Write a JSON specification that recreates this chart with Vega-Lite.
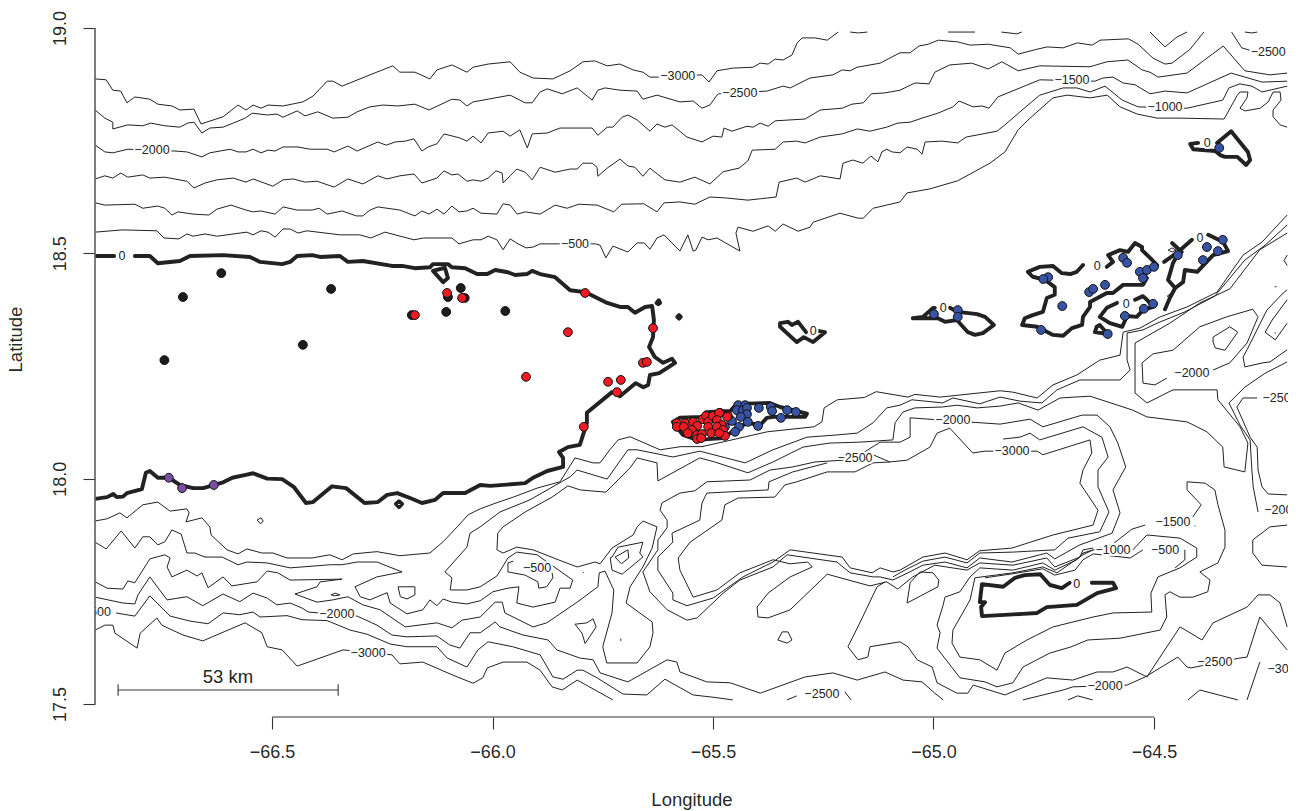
{"$schema":"https://vega.github.io/schema/vega-lite/v6.json","width":1193,"height":689,"autosize":"none","padding":{"left":95,"top":28,"right":8,"bottom":94},"background":"white","config":{"view":{"stroke":null},"text":{"font":"Liberation Sans"},"axis":{"grid":false,"labelFont":"Liberation Sans","titleFont":"Liberation Sans","labelFontSize":18,"titleFontSize":18.5,"labelColor":"#222","titleColor":"#222","labelOpacity":0.99,"titleOpacity":0.99,"titleFontWeight":"normal","tickColor":"#333","tickWidth":1.1,"tickSize":12,"domain":false}},
"datasets":{
"contours":[
{"s":"a","lon":-66.901,"lat":18.887},{"s":"a","lon":-66.876,"lat":18.885},{"s":"a","lon":-66.861,"lat":18.862},{"s":"a","lon":-66.843,"lat":18.860},{"s":"a","lon":-66.829,"lat":18.834},{"s":"a","lon":-66.811,"lat":18.847},{"s":"a","lon":-66.777,"lat":18.842},{"s":"a","lon":-66.759,"lat":18.831},{"s":"a","lon":-66.727,"lat":18.827},{"s":"a","lon":-66.709,"lat":18.818},{"s":"a","lon":-66.677,"lat":18.820},{"s":"a","lon":-66.661,"lat":18.787},{"s":"a","lon":-66.611,"lat":18.803},{"s":"a","lon":-66.577,"lat":18.829},{"s":"a","lon":-66.559,"lat":18.818},{"s":"a","lon":-66.543,"lat":18.829},{"s":"a","lon":-66.525,"lat":18.822},{"s":"a","lon":-66.509,"lat":18.829},{"s":"a","lon":-66.475,"lat":18.827},{"s":"a","lon":-66.430,"lat":18.836},{"s":"a","lon":-66.407,"lat":18.849},{"s":"a","lon":-66.375,"lat":18.882},{"s":"a","lon":-66.362,"lat":18.882},{"s":"a","lon":-66.341,"lat":18.871},{"s":"a","lon":-66.278,"lat":18.896},{"s":"a","lon":-66.226,"lat":18.916},{"s":"a","lon":-66.210,"lat":18.902},{"s":"a","lon":-66.176,"lat":18.902},{"s":"a","lon":-66.142,"lat":18.887},{"s":"a","lon":-66.126,"lat":18.907},{"s":"a","lon":-66.092,"lat":18.918},{"s":"a","lon":-66.058,"lat":18.902},{"s":"a","lon":-66.044,"lat":18.913},{"s":"a","lon":-66.010,"lat":18.920},{"s":"a","lon":-65.960,"lat":18.925},{"s":"a","lon":-65.938,"lat":18.902},{"s":"a","lon":-65.908,"lat":18.889},{"s":"a","lon":-65.863,"lat":18.887},{"s":"a","lon":-65.824,"lat":18.905},{"s":"a","lon":-65.795,"lat":18.925},{"s":"a","lon":-65.768,"lat":18.927},{"s":"a","lon":-65.740,"lat":18.916},{"s":"a","lon":-65.711,"lat":18.920},{"s":"a","lon":-65.681,"lat":18.907},{"s":"a","lon":-65.659,"lat":18.902},{"s":"a","lon":-65.643,"lat":18.891},{"s":"a","lon":-65.624,"lat":18.891},{"s":"a","lon":-65.525,"lat":18.896},{"s":"a","lon":-65.509,"lat":18.880},{"s":"a","lon":-65.491,"lat":18.905},{"s":"a","lon":-65.455,"lat":18.911},{"s":"a","lon":-65.409,"lat":18.913},{"s":"a","lon":-65.393,"lat":18.922},{"s":"a","lon":-65.375,"lat":18.920},{"s":"a","lon":-65.359,"lat":18.931},{"s":"a","lon":-65.341,"lat":18.929},{"s":"a","lon":-65.321,"lat":18.940},{"s":"a","lon":-65.309,"lat":18.967},{"s":"a","lon":-65.298,"lat":18.978},{"s":"a","lon":-65.268,"lat":18.978},{"s":"a","lon":-65.241,"lat":18.973},{"s":"a","lon":-65.216,"lat":18.991},
{"s":"a2","lon":-65.189,"lat":18.991},{"s":"a2","lon":-65.171,"lat":18.989},{"s":"a2","lon":-65.150,"lat":18.991},
{"s":"a3","lon":-64.967,"lat":18.991},{"s":"a3","lon":-64.906,"lat":18.991},
{"s":"a4","lon":-64.846,"lat":18.991},{"s":"a4","lon":-64.811,"lat":18.987},{"s":"a4","lon":-64.800,"lat":18.991},
{"s":"a5","lon":-64.509,"lat":18.991},{"s":"a5","lon":-64.475,"lat":18.958},{"s":"a5","lon":-64.448,"lat":18.980},{"s":"a5","lon":-64.425,"lat":18.991},
{"s":"a6","lon":-64.324,"lat":18.991},{"s":"a6","lon":-64.301,"lat":18.956},{"s":"a6","lon":-64.271,"lat":18.947},
{"s":"a7","lon":-64.294,"lat":18.991},{"s":"a7","lon":-64.278,"lat":18.989},{"s":"a7","lon":-64.266,"lat":18.991},
{"s":"b","lon":-66.901,"lat":18.818},{"s":"b","lon":-66.879,"lat":18.800},{"s":"b","lon":-66.861,"lat":18.791},{"s":"b","lon":-66.861,"lat":18.776},{"s":"b","lon":-66.827,"lat":18.785},{"s":"b","lon":-66.793,"lat":18.783},{"s":"b","lon":-66.775,"lat":18.789},{"s":"b","lon":-66.743,"lat":18.783},{"s":"b","lon":-66.709,"lat":18.780},{"s":"b","lon":-66.691,"lat":18.789},{"s":"b","lon":-66.677,"lat":18.791},{"s":"b","lon":-66.659,"lat":18.767},{"s":"b","lon":-66.641,"lat":18.778},{"s":"b","lon":-66.611,"lat":18.780},{"s":"b","lon":-66.588,"lat":18.789},{"s":"b","lon":-66.561,"lat":18.800},{"s":"b","lon":-66.545,"lat":18.811},{"s":"b","lon":-66.511,"lat":18.807},{"s":"b","lon":-66.489,"lat":18.809},{"s":"b","lon":-66.475,"lat":18.802},{"s":"b","lon":-66.443,"lat":18.816},{"s":"b","lon":-66.425,"lat":18.805},{"s":"b","lon":-66.396,"lat":18.814},{"s":"b","lon":-66.362,"lat":18.800},{"s":"b","lon":-66.328,"lat":18.802},{"s":"b","lon":-66.307,"lat":18.814},{"s":"b","lon":-66.278,"lat":18.825},{"s":"b","lon":-66.248,"lat":18.829},{"s":"b","lon":-66.214,"lat":18.827},{"s":"b","lon":-66.176,"lat":18.831},{"s":"b","lon":-66.144,"lat":18.818},{"s":"b","lon":-66.092,"lat":18.842},{"s":"b","lon":-66.074,"lat":18.840},{"s":"b","lon":-66.058,"lat":18.827},{"s":"b","lon":-66.044,"lat":18.836},{"s":"b","lon":-66.010,"lat":18.842},{"s":"b","lon":-65.960,"lat":18.851},{"s":"b","lon":-65.926,"lat":18.834},{"s":"b","lon":-65.910,"lat":18.834},{"s":"b","lon":-65.892,"lat":18.858},{"s":"b","lon":-65.876,"lat":18.865},{"s":"b","lon":-65.842,"lat":18.854},{"s":"b","lon":-65.808,"lat":18.867},{"s":"b","lon":-65.774,"lat":18.840},{"s":"b","lon":-65.761,"lat":18.862},{"s":"b","lon":-65.745,"lat":18.867},{"s":"b","lon":-65.711,"lat":18.862},{"s":"b","lon":-65.672,"lat":18.860},{"s":"b","lon":-65.659,"lat":18.842},{"s":"b","lon":-65.627,"lat":18.851},{"s":"b","lon":-65.575,"lat":18.836},{"s":"b","lon":-65.545,"lat":18.838},{"s":"b","lon":-65.525,"lat":18.822},{"s":"b","lon":-65.507,"lat":18.829},{"s":"b","lon":-65.491,"lat":18.851},{"s":"b","lon":-65.487,"lat":18.854},{"s":"b","lon":-65.378,"lat":18.860},{"s":"b","lon":-65.341,"lat":18.871},{"s":"b","lon":-65.325,"lat":18.867},{"s":"b","lon":-65.280,"lat":18.889},{"s":"b","lon":-65.228,"lat":18.896},{"s":"b","lon":-65.207,"lat":18.907},{"s":"b","lon":-65.189,"lat":18.905},{"s":"b","lon":-65.173,"lat":18.913},{"s":"b","lon":-65.121,"lat":18.922},{"s":"b","lon":-65.076,"lat":18.945},{"s":"b","lon":-65.053,"lat":18.945},{"s":"b","lon":-65.033,"lat":18.960},{"s":"b","lon":-65.012,"lat":18.964},{"s":"b","lon":-64.989,"lat":18.973},{"s":"b","lon":-64.944,"lat":18.969},{"s":"b","lon":-64.917,"lat":18.962},{"s":"b","lon":-64.876,"lat":18.964},{"s":"b","lon":-64.826,"lat":18.956},{"s":"b","lon":-64.808,"lat":18.942},{"s":"b","lon":-64.765,"lat":18.953},{"s":"b","lon":-64.742,"lat":18.958},{"s":"b","lon":-64.706,"lat":18.956},{"s":"b","lon":-64.674,"lat":18.967},{"s":"b","lon":-64.640,"lat":18.962},{"s":"b","lon":-64.622,"lat":18.973},{"s":"b","lon":-64.558,"lat":18.976},{"s":"b","lon":-64.536,"lat":18.964},{"s":"b","lon":-64.502,"lat":18.933},{"s":"b","lon":-64.475,"lat":18.920},{"s":"b","lon":-64.459,"lat":18.922},{"s":"b","lon":-64.418,"lat":18.953},{"s":"b","lon":-64.387,"lat":18.991},
{"s":"c","lon":-66.901,"lat":18.740},{"s":"c","lon":-66.879,"lat":18.725},{"s":"c","lon":-66.861,"lat":18.723},{"s":"c","lon":-66.827,"lat":18.731},{"s":"c","lon":-66.720,"lat":18.727},{"s":"c","lon":-66.693,"lat":18.725},{"s":"c","lon":-66.659,"lat":18.714},{"s":"c","lon":-66.641,"lat":18.723},{"s":"c","lon":-66.595,"lat":18.731},{"s":"c","lon":-66.577,"lat":18.725},{"s":"c","lon":-66.559,"lat":18.725},{"s":"c","lon":-66.543,"lat":18.731},{"s":"c","lon":-66.525,"lat":18.723},{"s":"c","lon":-66.509,"lat":18.729},{"s":"c","lon":-66.493,"lat":18.727},{"s":"c","lon":-66.475,"lat":18.736},{"s":"c","lon":-66.441,"lat":18.736},{"s":"c","lon":-66.414,"lat":18.731},{"s":"c","lon":-66.375,"lat":18.731},{"s":"c","lon":-66.359,"lat":18.725},{"s":"c","lon":-66.328,"lat":18.738},{"s":"c","lon":-66.307,"lat":18.727},{"s":"c","lon":-66.260,"lat":18.747},{"s":"c","lon":-66.241,"lat":18.740},{"s":"c","lon":-66.221,"lat":18.747},{"s":"c","lon":-66.198,"lat":18.749},{"s":"c","lon":-66.178,"lat":18.754},{"s":"c","lon":-66.160,"lat":18.727},{"s":"c","lon":-66.146,"lat":18.736},{"s":"c","lon":-66.126,"lat":18.743},{"s":"c","lon":-66.110,"lat":18.765},{"s":"c","lon":-66.074,"lat":18.756},{"s":"c","lon":-66.058,"lat":18.749},{"s":"c","lon":-66.044,"lat":18.760},{"s":"c","lon":-66.026,"lat":18.745},{"s":"c","lon":-66.010,"lat":18.767},{"s":"c","lon":-65.976,"lat":18.771},{"s":"c","lon":-65.960,"lat":18.760},{"s":"c","lon":-65.938,"lat":18.774},{"s":"c","lon":-65.921,"lat":18.734},{"s":"c","lon":-65.910,"lat":18.765},{"s":"c","lon":-65.876,"lat":18.767},{"s":"c","lon":-65.847,"lat":18.778},{"s":"c","lon":-65.774,"lat":18.778},{"s":"c","lon":-65.761,"lat":18.762},{"s":"c","lon":-65.740,"lat":18.780},{"s":"c","lon":-65.727,"lat":18.780},{"s":"c","lon":-65.706,"lat":18.802},{"s":"c","lon":-65.693,"lat":18.807},{"s":"c","lon":-65.672,"lat":18.796},{"s":"c","lon":-65.643,"lat":18.771},{"s":"c","lon":-65.627,"lat":18.787},{"s":"c","lon":-65.609,"lat":18.780},{"s":"c","lon":-65.593,"lat":18.785},{"s":"c","lon":-65.559,"lat":18.758},{"s":"c","lon":-65.525,"lat":18.747},{"s":"c","lon":-65.500,"lat":18.760},{"s":"c","lon":-65.480,"lat":18.758},{"s":"c","lon":-65.475,"lat":18.778},{"s":"c","lon":-65.457,"lat":18.771},{"s":"c","lon":-65.423,"lat":18.782},{"s":"c","lon":-65.409,"lat":18.780},{"s":"c","lon":-65.393,"lat":18.789},{"s":"c","lon":-65.375,"lat":18.782},{"s":"c","lon":-65.359,"lat":18.794},{"s":"c","lon":-65.291,"lat":18.798},{"s":"c","lon":-65.257,"lat":18.818},{"s":"c","lon":-65.207,"lat":18.822},{"s":"c","lon":-65.185,"lat":18.831},{"s":"c","lon":-65.159,"lat":18.834},{"s":"c","lon":-65.141,"lat":18.854},{"s":"c","lon":-65.110,"lat":18.856},{"s":"c","lon":-65.076,"lat":18.862},{"s":"c","lon":-65.042,"lat":18.878},{"s":"c","lon":-65.010,"lat":18.876},{"s":"c","lon":-64.997,"lat":18.902},{"s":"c","lon":-64.963,"lat":18.918},{"s":"c","lon":-64.913,"lat":18.922},{"s":"c","lon":-64.876,"lat":18.909},{"s":"c","lon":-64.845,"lat":18.925},{"s":"c","lon":-64.808,"lat":18.905},{"s":"c","lon":-64.759,"lat":18.916},{"s":"c","lon":-64.645,"lat":18.914},{"s":"c","lon":-64.607,"lat":18.925},{"s":"c","lon":-64.559,"lat":18.929},{"s":"c","lon":-64.527,"lat":18.907},{"s":"c","lon":-64.509,"lat":18.902},{"s":"c","lon":-64.491,"lat":18.891},{"s":"c","lon":-64.425,"lat":18.900},{"s":"c","lon":-64.343,"lat":18.960},{"s":"c","lon":-64.294,"lat":18.905},{"s":"c","lon":-64.237,"lat":18.896},{"s":"c","lon":-64.198,"lat":18.900},
{"s":"d","lon":-66.901,"lat":18.665},{"s":"d","lon":-66.879,"lat":18.672},{"s":"d","lon":-66.861,"lat":18.667},{"s":"d","lon":-66.843,"lat":18.678},{"s":"d","lon":-66.827,"lat":18.669},{"s":"d","lon":-66.793,"lat":18.674},{"s":"d","lon":-66.777,"lat":18.667},{"s":"d","lon":-66.743,"lat":18.669},{"s":"d","lon":-66.693,"lat":18.660},{"s":"d","lon":-66.677,"lat":18.645},{"s":"d","lon":-66.652,"lat":18.656},{"s":"d","lon":-66.625,"lat":18.663},{"s":"d","lon":-66.588,"lat":18.667},{"s":"d","lon":-66.559,"lat":18.658},{"s":"d","lon":-66.543,"lat":18.665},{"s":"d","lon":-66.498,"lat":18.649},{"s":"d","lon":-66.475,"lat":18.663},{"s":"d","lon":-66.452,"lat":18.665},{"s":"d","lon":-66.425,"lat":18.658},{"s":"d","lon":-66.398,"lat":18.660},{"s":"d","lon":-66.359,"lat":18.647},{"s":"d","lon":-66.328,"lat":18.665},{"s":"d","lon":-66.294,"lat":18.654},{"s":"d","lon":-66.260,"lat":18.672},{"s":"d","lon":-66.239,"lat":18.665},{"s":"d","lon":-66.210,"lat":18.672},{"s":"d","lon":-66.178,"lat":18.676},{"s":"d","lon":-66.160,"lat":18.656},{"s":"d","lon":-66.126,"lat":18.667},{"s":"d","lon":-66.110,"lat":18.683},{"s":"d","lon":-66.092,"lat":18.674},{"s":"d","lon":-66.078,"lat":18.676},{"s":"d","lon":-66.058,"lat":18.660},{"s":"d","lon":-66.044,"lat":18.663},{"s":"d","lon":-66.026,"lat":18.660},{"s":"d","lon":-66.010,"lat":18.667},{"s":"d","lon":-65.992,"lat":18.683},{"s":"d","lon":-65.978,"lat":18.678},{"s":"d","lon":-65.976,"lat":18.656},{"s":"d","lon":-65.960,"lat":18.672},{"s":"d","lon":-65.945,"lat":18.687},{"s":"d","lon":-65.926,"lat":18.680},{"s":"d","lon":-65.910,"lat":18.663},{"s":"d","lon":-65.892,"lat":18.691},{"s":"d","lon":-65.858,"lat":18.680},{"s":"d","lon":-65.824,"lat":18.687},{"s":"d","lon":-65.808,"lat":18.687},{"s":"d","lon":-65.795,"lat":18.700},{"s":"d","lon":-65.774,"lat":18.700},{"s":"d","lon":-65.763,"lat":18.691},{"s":"d","lon":-65.761,"lat":18.671},{"s":"d","lon":-65.740,"lat":18.689},{"s":"d","lon":-65.711,"lat":18.709},{"s":"d","lon":-65.693,"lat":18.694},{"s":"d","lon":-65.677,"lat":18.691},{"s":"d","lon":-65.659,"lat":18.671},{"s":"d","lon":-65.643,"lat":18.689},{"s":"d","lon":-65.609,"lat":18.663},{"s":"d","lon":-65.575,"lat":18.658},{"s":"d","lon":-65.541,"lat":18.669},{"s":"d","lon":-65.507,"lat":18.654},{"s":"d","lon":-65.477,"lat":18.681},{"s":"d","lon":-65.441,"lat":18.689},{"s":"d","lon":-65.421,"lat":18.705},{"s":"d","lon":-65.411,"lat":18.729},{"s":"d","lon":-65.359,"lat":18.731},{"s":"d","lon":-65.341,"lat":18.747},{"s":"d","lon":-65.311,"lat":18.749},{"s":"d","lon":-65.291,"lat":18.745},{"s":"d","lon":-65.257,"lat":18.758},{"s":"d","lon":-65.207,"lat":18.765},{"s":"d","lon":-65.173,"lat":18.776},{"s":"d","lon":-65.144,"lat":18.771},{"s":"d","lon":-65.106,"lat":18.780},{"s":"d","lon":-65.081,"lat":18.789},{"s":"d","lon":-65.053,"lat":18.791},{"s":"d","lon":-65.026,"lat":18.800},{"s":"d","lon":-64.990,"lat":18.811},{"s":"d","lon":-64.956,"lat":18.825},{"s":"d","lon":-64.942,"lat":18.838},{"s":"d","lon":-64.910,"lat":18.825},{"s":"d","lon":-64.890,"lat":18.827},{"s":"d","lon":-64.874,"lat":18.822},{"s":"d","lon":-64.854,"lat":18.847},{"s":"d","lon":-64.804,"lat":18.867},{"s":"d","lon":-64.759,"lat":18.885},{"s":"d","lon":-64.634,"lat":18.882},{"s":"d","lon":-64.616,"lat":18.889},{"s":"d","lon":-64.593,"lat":18.891},{"s":"d","lon":-64.570,"lat":18.878},{"s":"d","lon":-64.543,"lat":18.874},{"s":"d","lon":-64.509,"lat":18.854},{"s":"d","lon":-64.475,"lat":18.860},{"s":"d","lon":-64.425,"lat":18.856},{"s":"d","lon":-64.325,"lat":18.900},{"s":"d","lon":-64.255,"lat":18.880},{"s":"d","lon":-64.198,"lat":18.882},
{"s":"e","lon":-66.901,"lat":18.612},{"s":"e","lon":-66.879,"lat":18.607},{"s":"e","lon":-66.811,"lat":18.609},{"s":"e","lon":-66.793,"lat":18.600},{"s":"e","lon":-66.759,"lat":18.605},{"s":"e","lon":-66.743,"lat":18.600},{"s":"e","lon":-66.727,"lat":18.585},{"s":"e","lon":-66.713,"lat":18.592},{"s":"e","lon":-66.679,"lat":18.587},{"s":"e","lon":-66.643,"lat":18.585},{"s":"e","lon":-66.625,"lat":18.598},{"s":"e","lon":-66.593,"lat":18.607},{"s":"e","lon":-66.559,"lat":18.596},{"s":"e","lon":-66.543,"lat":18.592},{"s":"e","lon":-66.525,"lat":18.594},{"s":"e","lon":-66.493,"lat":18.587},{"s":"e","lon":-66.475,"lat":18.603},{"s":"e","lon":-66.443,"lat":18.596},{"s":"e","lon":-66.409,"lat":18.596},{"s":"e","lon":-66.393,"lat":18.600},{"s":"e","lon":-66.375,"lat":18.587},{"s":"e","lon":-66.341,"lat":18.594},{"s":"e","lon":-66.309,"lat":18.583},{"s":"e","lon":-66.294,"lat":18.583},{"s":"e","lon":-66.278,"lat":18.596},{"s":"e","lon":-66.260,"lat":18.603},{"s":"e","lon":-66.210,"lat":18.596},{"s":"e","lon":-66.176,"lat":18.583},{"s":"e","lon":-66.160,"lat":18.594},{"s":"e","lon":-66.144,"lat":18.587},{"s":"e","lon":-66.126,"lat":18.598},{"s":"e","lon":-66.110,"lat":18.587},{"s":"e","lon":-66.092,"lat":18.605},{"s":"e","lon":-66.076,"lat":18.592},{"s":"e","lon":-66.058,"lat":18.594},{"s":"e","lon":-66.044,"lat":18.600},{"s":"e","lon":-66.026,"lat":18.589},{"s":"e","lon":-65.990,"lat":18.587},{"s":"e","lon":-65.976,"lat":18.610},{"s":"e","lon":-65.960,"lat":18.607},{"s":"e","lon":-65.944,"lat":18.587},{"s":"e","lon":-65.926,"lat":18.592},{"s":"e","lon":-65.892,"lat":18.587},{"s":"e","lon":-65.858,"lat":18.607},{"s":"e","lon":-65.831,"lat":18.600},{"s":"e","lon":-65.804,"lat":18.609},{"s":"e","lon":-65.763,"lat":18.607},{"s":"e","lon":-65.725,"lat":18.592},{"s":"e","lon":-65.707,"lat":18.609},{"s":"e","lon":-65.657,"lat":18.610},{"s":"e","lon":-65.627,"lat":18.592},{"s":"e","lon":-65.611,"lat":18.612},{"s":"e","lon":-65.575,"lat":18.614},{"s":"e","lon":-65.541,"lat":18.609},{"s":"e","lon":-65.507,"lat":18.625},{"s":"e","lon":-65.472,"lat":18.623},{"s":"e","lon":-65.421,"lat":18.618},{"s":"e","lon":-65.393,"lat":18.621},{"s":"e","lon":-65.357,"lat":18.625},{"s":"e","lon":-65.350,"lat":18.658},{"s":"e","lon":-65.310,"lat":18.667},{"s":"e","lon":-65.291,"lat":18.658},{"s":"e","lon":-65.257,"lat":18.672},{"s":"e","lon":-65.212,"lat":18.665},{"s":"e","lon":-65.205,"lat":18.700},{"s":"e","lon":-65.183,"lat":18.707},{"s":"e","lon":-65.160,"lat":18.700},{"s":"e","lon":-65.142,"lat":18.716},{"s":"e","lon":-65.126,"lat":18.703},{"s":"e","lon":-65.117,"lat":18.725},{"s":"e","lon":-65.106,"lat":18.731},{"s":"e","lon":-65.094,"lat":18.725},{"s":"e","lon":-65.076,"lat":18.723},{"s":"e","lon":-65.060,"lat":18.736},{"s":"e","lon":-65.037,"lat":18.731},{"s":"e","lon":-65.026,"lat":18.720},{"s":"e","lon":-65.019,"lat":18.747},{"s":"e","lon":-64.981,"lat":18.749},{"s":"e","lon":-64.945,"lat":18.745},{"s":"e","lon":-64.926,"lat":18.758},{"s":"e","lon":-64.856,"lat":18.771},{"s":"e","lon":-64.838,"lat":18.785},{"s":"e","lon":-64.799,"lat":18.818},{"s":"e","lon":-64.759,"lat":18.851},{"s":"e","lon":-64.706,"lat":18.867},{"s":"e","lon":-64.675,"lat":18.867},{"s":"e","lon":-64.645,"lat":18.858},{"s":"e","lon":-64.611,"lat":18.871},{"s":"e","lon":-64.572,"lat":18.840},{"s":"e","lon":-64.536,"lat":18.825},{"s":"e","lon":-64.425,"lat":18.822},{"s":"e","lon":-64.344,"lat":18.840},{"s":"e","lon":-64.330,"lat":18.867},{"s":"e","lon":-64.305,"lat":18.876},{"s":"e","lon":-64.278,"lat":18.871},{"s":"e","lon":-64.255,"lat":18.858},{"s":"e","lon":-64.198,"lat":18.871},
{"s":"f","lon":-66.901,"lat":18.547},{"s":"f","lon":-66.840,"lat":18.552},{"s":"f","lon":-66.761,"lat":18.550},{"s":"f","lon":-66.745,"lat":18.534},{"s":"f","lon":-66.711,"lat":18.532},{"s":"f","lon":-66.693,"lat":18.543},{"s":"f","lon":-66.679,"lat":18.538},{"s":"f","lon":-66.652,"lat":18.543},{"s":"f","lon":-66.625,"lat":18.538},{"s":"f","lon":-66.557,"lat":18.547},{"s":"f","lon":-66.543,"lat":18.541},{"s":"f","lon":-66.525,"lat":18.550},{"s":"f","lon":-66.509,"lat":18.547},{"s":"f","lon":-66.493,"lat":18.536},{"s":"f","lon":-66.475,"lat":18.554},{"s":"f","lon":-66.459,"lat":18.554},{"s":"f","lon":-66.441,"lat":18.545},{"s":"f","lon":-66.421,"lat":18.550},{"s":"f","lon":-66.346,"lat":18.541},{"s":"f","lon":-66.301,"lat":18.541},{"s":"f","lon":-66.276,"lat":18.534},{"s":"f","lon":-66.244,"lat":18.547},{"s":"f","lon":-66.178,"lat":18.530},{"s":"f","lon":-66.157,"lat":18.534},{"s":"f","lon":-66.092,"lat":18.534},{"s":"f","lon":-66.076,"lat":18.521},{"s":"f","lon":-66.044,"lat":18.530},{"s":"f","lon":-66.026,"lat":18.530},{"s":"f","lon":-66.010,"lat":18.538},{"s":"f","lon":-65.990,"lat":18.530},{"s":"f","lon":-65.976,"lat":18.508},{"s":"f","lon":-65.960,"lat":18.532},{"s":"f","lon":-65.942,"lat":18.521},{"s":"f","lon":-65.924,"lat":18.512},{"s":"f","lon":-65.908,"lat":18.514},{"s":"f","lon":-65.892,"lat":18.521},{"s":"f","lon":-65.863,"lat":18.521},{"s":"f","lon":-65.766,"lat":18.521},{"s":"f","lon":-65.756,"lat":18.518},{"s":"f","lon":-65.743,"lat":18.490},{"s":"f","lon":-65.727,"lat":18.516},{"s":"f","lon":-65.693,"lat":18.503},{"s":"f","lon":-65.672,"lat":18.523},{"s":"f","lon":-65.656,"lat":18.523},{"s":"f","lon":-65.643,"lat":18.509},{"s":"f","lon":-65.627,"lat":18.534},{"s":"f","lon":-65.611,"lat":18.541},{"s":"f","lon":-65.575,"lat":18.505},{"s":"f","lon":-65.557,"lat":18.541},{"s":"f","lon":-65.545,"lat":18.505},{"s":"f","lon":-65.539,"lat":18.507},{"s":"f","lon":-65.525,"lat":18.536},{"s":"f","lon":-65.511,"lat":18.530},{"s":"f","lon":-65.491,"lat":18.534},{"s":"f","lon":-65.439,"lat":18.505},{"s":"f","lon":-65.448,"lat":18.545},{"s":"f","lon":-65.443,"lat":18.558},{"s":"f","lon":-65.409,"lat":18.549},{"s":"f","lon":-65.375,"lat":18.561},{"s":"f","lon":-65.359,"lat":18.549},{"s":"f","lon":-65.341,"lat":18.565},{"s":"f","lon":-65.307,"lat":18.549},{"s":"f","lon":-65.280,"lat":18.558},{"s":"f","lon":-65.273,"lat":18.569},{"s":"f","lon":-65.212,"lat":18.589},{"s":"f","lon":-65.171,"lat":18.578},{"s":"f","lon":-65.159,"lat":18.578},{"s":"f","lon":-65.137,"lat":18.600},{"s":"f","lon":-65.076,"lat":18.614},{"s":"f","lon":-65.060,"lat":18.634},{"s":"f","lon":-65.008,"lat":18.643},{"s":"f","lon":-64.945,"lat":18.661},{"s":"f","lon":-64.872,"lat":18.700},{"s":"f","lon":-64.838,"lat":18.725},{"s":"f","lon":-64.808,"lat":18.774},{"s":"f","lon":-64.781,"lat":18.800},{"s":"f","lon":-64.729,"lat":18.845},{"s":"f","lon":-64.697,"lat":18.851},{"s":"f","lon":-64.645,"lat":18.845},{"s":"f","lon":-64.606,"lat":18.851},{"s":"f","lon":-64.577,"lat":18.825},{"s":"f","lon":-64.538,"lat":18.809},{"s":"f","lon":-64.493,"lat":18.800},{"s":"f","lon":-64.441,"lat":18.800},{"s":"f","lon":-64.341,"lat":18.798},{"s":"f","lon":-64.311,"lat":18.851},{"s":"f","lon":-64.305,"lat":18.858},{"s":"f","lon":-64.287,"lat":18.858},{"s":"f","lon":-64.289,"lat":18.845},{"s":"f","lon":-64.305,"lat":18.822},{"s":"f","lon":-64.294,"lat":18.816},{"s":"f","lon":-64.259,"lat":18.822},{"s":"f","lon":-64.241,"lat":18.836},{"s":"f","lon":-64.230,"lat":18.858},{"s":"f","lon":-64.214,"lat":18.858},{"s":"f","lon":-64.212,"lat":18.840},{"s":"f","lon":-64.230,"lat":18.818},{"s":"f","lon":-64.230,"lat":18.803},{"s":"f","lon":-64.214,"lat":18.785},{"s":"f","lon":-64.198,"lat":18.780},
{"s":"g","lon":-66.901,"lat":17.906},{"s":"g","lon":-66.874,"lat":17.911},{"s":"g","lon":-66.845,"lat":17.924},{"s":"g","lon":-66.829,"lat":17.913},{"s":"g","lon":-66.793,"lat":17.942},{"s":"g","lon":-66.759,"lat":17.948},{"s":"g","lon":-66.731,"lat":17.928},{"s":"g","lon":-66.693,"lat":17.933},{"s":"g","lon":-66.688,"lat":17.924},{"s":"g","lon":-66.695,"lat":17.904},{"s":"g","lon":-66.659,"lat":17.913},{"s":"g","lon":-66.641,"lat":17.893},{"s":"g","lon":-66.638,"lat":17.875},{"s":"g","lon":-66.602,"lat":17.842},{"s":"g","lon":-66.577,"lat":17.833},{"s":"g","lon":-66.557,"lat":17.844},{"s":"g","lon":-66.523,"lat":17.835},{"s":"g","lon":-66.498,"lat":17.835},{"s":"g","lon":-66.466,"lat":17.824},{"s":"g","lon":-66.409,"lat":17.824},{"s":"g","lon":-66.369,"lat":17.831},{"s":"g","lon":-66.341,"lat":17.820},{"s":"g","lon":-66.316,"lat":17.833},{"s":"g","lon":-66.262,"lat":17.838},{"s":"g","lon":-66.210,"lat":17.829},{"s":"g","lon":-66.142,"lat":17.835},{"s":"g","lon":-66.112,"lat":17.860},{"s":"g","lon":-66.080,"lat":17.893},{"s":"g","lon":-66.055,"lat":17.920},{"s":"g","lon":-66.028,"lat":17.933},{"s":"g","lon":-65.992,"lat":17.946},{"s":"g","lon":-65.953,"lat":17.959},{"s":"g","lon":-65.899,"lat":17.979},{"s":"g","lon":-65.847,"lat":17.993},{"s":"g","lon":-65.813,"lat":18.046},{"s":"g","lon":-65.772,"lat":18.035},{"s":"g","lon":-65.756,"lat":18.035},{"s":"g","lon":-65.734,"lat":18.064},{"s":"g","lon":-65.715,"lat":18.086},{"s":"g","lon":-65.688,"lat":18.093},{"s":"g","lon":-65.620,"lat":18.064},{"s":"g","lon":-65.573,"lat":18.071},{"s":"g","lon":-65.525,"lat":18.071},{"s":"g","lon":-65.457,"lat":18.086},{"s":"g","lon":-65.377,"lat":18.104},{"s":"g","lon":-65.271,"lat":18.115},{"s":"g","lon":-65.253,"lat":18.126},{"s":"g","lon":-65.248,"lat":18.157},{"s":"g","lon":-65.218,"lat":18.175},{"s":"g","lon":-65.157,"lat":18.180},{"s":"g","lon":-65.130,"lat":18.193},{"s":"g","lon":-65.058,"lat":18.181},{"s":"g","lon":-65.042,"lat":18.187},{"s":"g","lon":-64.985,"lat":18.181},{"s":"g","lon":-64.849,"lat":18.195},{"s":"g","lon":-64.820,"lat":18.192},{"s":"g","lon":-64.765,"lat":18.179},{"s":"g","lon":-64.729,"lat":18.208},{"s":"g","lon":-64.675,"lat":18.230},{"s":"g","lon":-64.623,"lat":18.263},{"s":"g","lon":-64.577,"lat":18.274},{"s":"g","lon":-64.570,"lat":18.325},{"s":"g","lon":-64.532,"lat":18.334},{"s":"g","lon":-64.486,"lat":18.359},{"s":"g","lon":-64.425,"lat":18.381},{"s":"g","lon":-64.357,"lat":18.414},{"s":"g","lon":-64.298,"lat":18.496},{"s":"g","lon":-64.255,"lat":18.525},{"s":"g","lon":-64.198,"lat":18.585},
{"s":"h","lon":-66.901,"lat":17.859},{"s":"h","lon":-66.876,"lat":17.844},{"s":"h","lon":-66.842,"lat":17.884},{"s":"h","lon":-66.811,"lat":17.846},{"s":"h","lon":-66.793,"lat":17.871},{"s":"h","lon":-66.777,"lat":17.871},{"s":"h","lon":-66.759,"lat":17.853},{"s":"h","lon":-66.743,"lat":17.860},{"s":"h","lon":-66.727,"lat":17.886},{"s":"h","lon":-66.706,"lat":17.877},{"s":"h","lon":-66.693,"lat":17.835},{"s":"h","lon":-66.675,"lat":17.835},{"s":"h","lon":-66.652,"lat":17.826},{"s":"h","lon":-66.613,"lat":17.826},{"s":"h","lon":-66.577,"lat":17.809},{"s":"h","lon":-66.557,"lat":17.815},{"s":"h","lon":-66.511,"lat":17.813},{"s":"h","lon":-66.459,"lat":17.802},{"s":"h","lon":-66.368,"lat":17.809},{"s":"h","lon":-66.341,"lat":17.809},{"s":"h","lon":-66.307,"lat":17.815},{"s":"h","lon":-66.262,"lat":17.815},{"s":"h","lon":-66.205,"lat":17.793},{"s":"h","lon":-66.262,"lat":17.782},{"s":"h","lon":-66.312,"lat":17.760},{"s":"h","lon":-66.300,"lat":17.738},{"s":"h","lon":-66.278,"lat":17.731},{"s":"h","lon":-66.239,"lat":17.747},{"s":"h","lon":-66.232,"lat":17.724},{"s":"h","lon":-66.194,"lat":17.700},{"s":"h","lon":-66.158,"lat":17.709},{"s":"h","lon":-66.142,"lat":17.731},{"s":"h","lon":-66.126,"lat":17.718},{"s":"h","lon":-66.112,"lat":17.733},{"s":"h","lon":-66.092,"lat":17.726},{"s":"h","lon":-66.058,"lat":17.722},{"s":"h","lon":-66.028,"lat":17.729},{"s":"h","lon":-65.999,"lat":17.749},{"s":"h","lon":-65.965,"lat":17.757},{"s":"h","lon":-65.940,"lat":17.760},{"s":"h","lon":-65.945,"lat":17.724},{"s":"h","lon":-65.908,"lat":17.715},{"s":"h","lon":-65.858,"lat":17.726},{"s":"h","lon":-65.847,"lat":17.757},{"s":"h","lon":-65.824,"lat":17.757},{"s":"h","lon":-65.818,"lat":17.775},{"s":"h","lon":-65.899,"lat":17.831},{"s":"h","lon":-65.945,"lat":17.837},{"s":"h","lon":-65.965,"lat":17.824},{"s":"h","lon":-65.990,"lat":17.784},{"s":"h","lon":-66.028,"lat":17.760},{"s":"h","lon":-66.058,"lat":17.753},{"s":"h","lon":-66.096,"lat":17.753},{"s":"h","lon":-66.092,"lat":17.780},{"s":"h","lon":-66.108,"lat":17.793},{"s":"h","lon":-66.058,"lat":17.848},{"s":"h","lon":-66.051,"lat":17.879},{"s":"h","lon":-66.028,"lat":17.893},{"s":"h","lon":-65.983,"lat":17.926},{"s":"h","lon":-65.915,"lat":17.953},{"s":"h","lon":-65.824,"lat":18.004},{"s":"h","lon":-65.808,"lat":18.019},{"s":"h","lon":-65.740,"lat":17.999},{"s":"h","lon":-65.693,"lat":18.064},{"s":"h","lon":-65.672,"lat":18.064},{"s":"h","lon":-65.591,"lat":18.048},{"s":"h","lon":-65.530,"lat":18.061},{"s":"h","lon":-65.427,"lat":18.035},{"s":"h","lon":-65.364,"lat":18.064},{"s":"h","lon":-65.287,"lat":18.092},{"s":"h","lon":-65.219,"lat":18.097},{"s":"h","lon":-65.173,"lat":18.101},{"s":"h","lon":-65.137,"lat":18.124},{"s":"h","lon":-65.106,"lat":18.157},{"s":"h","lon":-65.076,"lat":18.163},{"s":"h","lon":-65.049,"lat":18.175},{"s":"h","lon":-64.979,"lat":18.168},{"s":"h","lon":-64.956,"lat":18.179},{"s":"h","lon":-64.895,"lat":18.166},{"s":"h","lon":-64.849,"lat":18.181},{"s":"h","lon":-64.804,"lat":18.172},{"s":"h","lon":-64.754,"lat":18.168},{"s":"h","lon":-64.720,"lat":18.197},{"s":"h","lon":-64.668,"lat":18.219},{"s":"h","lon":-64.577,"lat":18.219},{"s":"h","lon":-64.554,"lat":18.241},{"s":"h","lon":-64.561,"lat":18.263},{"s":"h","lon":-64.561,"lat":18.323},{"s":"h","lon":-64.525,"lat":18.330},{"s":"h","lon":-64.493,"lat":18.345},{"s":"h","lon":-64.430,"lat":18.370},{"s":"h","lon":-64.362,"lat":18.405},{"s":"h","lon":-64.294,"lat":18.485},{"s":"h","lon":-64.248,"lat":18.518},{"s":"h","lon":-64.198,"lat":18.563},
{"s":"i","lon":-66.901,"lat":17.771},{"s":"i","lon":-66.874,"lat":17.757},{"s":"i","lon":-66.838,"lat":17.755},{"s":"i","lon":-66.827,"lat":17.773},{"s":"i","lon":-66.811,"lat":17.769},{"s":"i","lon":-66.777,"lat":17.822},{"s":"i","lon":-66.743,"lat":17.831},{"s":"i","lon":-66.731,"lat":17.824},{"s":"i","lon":-66.738,"lat":17.804},{"s":"i","lon":-66.727,"lat":17.782},{"s":"i","lon":-66.693,"lat":17.797},{"s":"i","lon":-66.670,"lat":17.784},{"s":"i","lon":-66.659,"lat":17.791},{"s":"i","lon":-66.645,"lat":17.758},{"s":"i","lon":-66.611,"lat":17.782},{"s":"i","lon":-66.591,"lat":17.762},{"s":"i","lon":-66.534,"lat":17.771},{"s":"i","lon":-66.511,"lat":17.795},{"s":"i","lon":-66.487,"lat":17.791},{"s":"i","lon":-66.459,"lat":17.775},{"s":"i","lon":-66.341,"lat":17.777},{"s":"i","lon":-66.391,"lat":17.771},{"s":"i","lon":-66.398,"lat":17.760},{"s":"i","lon":-66.448,"lat":17.744},{"s":"i","lon":-66.398,"lat":17.726},{"s":"i","lon":-66.362,"lat":17.731},{"s":"i","lon":-66.328,"lat":17.738},{"s":"i","lon":-66.294,"lat":17.720},{"s":"i","lon":-66.255,"lat":17.709},{"s":"i","lon":-66.198,"lat":17.671},{"s":"i","lon":-66.126,"lat":17.680},{"s":"i","lon":-66.092,"lat":17.669},{"s":"i","lon":-66.069,"lat":17.686},{"s":"i","lon":-66.028,"lat":17.693},{"s":"i","lon":-65.994,"lat":17.726},{"s":"i","lon":-65.978,"lat":17.726},{"s":"i","lon":-65.972,"lat":17.702},{"s":"i","lon":-65.908,"lat":17.671},{"s":"i","lon":-65.877,"lat":17.680},{"s":"i","lon":-65.808,"lat":17.726},{"s":"i","lon":-65.761,"lat":17.760},{"s":"i","lon":-65.758,"lat":17.791},{"s":"i","lon":-65.745,"lat":17.795},{"s":"i","lon":-65.725,"lat":17.753},{"s":"i","lon":-65.729,"lat":17.702},{"s":"i","lon":-65.750,"lat":17.627},{"s":"i","lon":-65.741,"lat":17.591},{"s":"i","lon":-65.672,"lat":17.591},{"s":"i","lon":-65.643,"lat":17.627},{"s":"i","lon":-65.636,"lat":17.658},{"s":"i","lon":-65.638,"lat":17.682},{"s":"i","lon":-65.697,"lat":17.724},{"s":"i","lon":-65.688,"lat":17.760},{"s":"i","lon":-65.659,"lat":17.804},{"s":"i","lon":-65.638,"lat":17.846},{"s":"i","lon":-65.627,"lat":17.893},{"s":"i","lon":-65.659,"lat":17.906},{"s":"i","lon":-65.672,"lat":17.893},{"s":"i","lon":-65.681,"lat":17.875},{"s":"i","lon":-65.729,"lat":17.846},{"s":"i","lon":-65.756,"lat":17.811},{"s":"i","lon":-65.768,"lat":17.815},{"s":"i","lon":-65.808,"lat":17.804},{"s":"i","lon":-65.851,"lat":17.820},{"s":"i","lon":-65.908,"lat":17.842},{"s":"i","lon":-65.945,"lat":17.848},{"s":"i","lon":-65.976,"lat":17.835},{"s":"i","lon":-65.990,"lat":17.842},{"s":"i","lon":-65.988,"lat":17.879},{"s":"i","lon":-65.976,"lat":17.893},{"s":"i","lon":-65.926,"lat":17.926},{"s":"i","lon":-65.865,"lat":17.959},{"s":"i","lon":-65.829,"lat":17.984},{"s":"i","lon":-65.801,"lat":17.975},{"s":"i","lon":-65.743,"lat":17.970},{"s":"i","lon":-65.688,"lat":18.024},{"s":"i","lon":-65.672,"lat":18.046},{"s":"i","lon":-65.627,"lat":18.035},{"s":"i","lon":-65.625,"lat":17.995},{"s":"i","lon":-65.530,"lat":18.046},{"s":"i","lon":-65.496,"lat":18.037},{"s":"i","lon":-65.421,"lat":18.013},{"s":"i","lon":-65.364,"lat":18.037},{"s":"i","lon":-65.296,"lat":18.070},{"s":"i","lon":-65.235,"lat":18.079},{"s":"i","lon":-65.167,"lat":18.081},{"s":"i","lon":-65.092,"lat":18.086},{"s":"i","lon":-65.087,"lat":18.124},{"s":"i","lon":-65.069,"lat":18.148},{"s":"i","lon":-65.042,"lat":18.157},{"s":"i","lon":-64.979,"lat":18.159},{"s":"i","lon":-64.947,"lat":18.163},{"s":"i","lon":-64.901,"lat":18.157},{"s":"i","lon":-64.849,"lat":18.161},{"s":"i","lon":-64.808,"lat":18.168},{"s":"i","lon":-64.763,"lat":18.152},{"s":"i","lon":-64.713,"lat":18.179},{"s":"i","lon":-64.645,"lat":18.183},{"s":"i","lon":-64.548,"lat":18.152},{"s":"i","lon":-64.516,"lat":18.137},{"s":"i","lon":-64.425,"lat":18.126},{"s":"i","lon":-64.380,"lat":18.104},{"s":"i","lon":-64.344,"lat":18.070},{"s":"i","lon":-64.341,"lat":18.026},{"s":"i","lon":-64.294,"lat":18.015},{"s":"i","lon":-64.287,"lat":18.079},{"s":"i","lon":-64.305,"lat":18.115},{"s":"i","lon":-64.355,"lat":18.175},{"s":"i","lon":-64.357,"lat":18.197},{"s":"i","lon":-64.457,"lat":18.197},{"s":"i","lon":-64.516,"lat":18.168},{"s":"i","lon":-64.543,"lat":18.190},{"s":"i","lon":-64.543,"lat":18.301},{"s":"i","lon":-64.464,"lat":18.345},{"s":"i","lon":-64.396,"lat":18.390},{"s":"i","lon":-64.328,"lat":18.421},{"s":"i","lon":-64.260,"lat":18.508},{"s":"i","lon":-64.198,"lat":18.545},
{"s":"j","lon":-66.901,"lat":17.737},{"s":"j","lon":-66.838,"lat":17.724},{"s":"j","lon":-66.811,"lat":17.722},{"s":"j","lon":-66.804,"lat":17.742},{"s":"j","lon":-66.777,"lat":17.782},{"s":"j","lon":-66.738,"lat":17.731},{"s":"j","lon":-66.693,"lat":17.738},{"s":"j","lon":-66.657,"lat":17.718},{"s":"j","lon":-66.611,"lat":17.744},{"s":"j","lon":-66.573,"lat":17.727},{"s":"j","lon":-66.543,"lat":17.746},{"s":"j","lon":-66.511,"lat":17.735},{"s":"j","lon":-66.489,"lat":17.720},{"s":"j","lon":-66.459,"lat":17.724},{"s":"j","lon":-66.432,"lat":17.713},{"s":"j","lon":-66.418,"lat":17.704},{"s":"j","lon":-66.307,"lat":17.695},{"s":"j","lon":-66.262,"lat":17.675},{"s":"j","lon":-66.228,"lat":17.653},{"s":"j","lon":-66.194,"lat":17.649},{"s":"j","lon":-66.126,"lat":17.651},{"s":"j","lon":-66.097,"lat":17.631},{"s":"j","lon":-66.074,"lat":17.624},{"s":"j","lon":-66.051,"lat":17.658},{"s":"j","lon":-66.028,"lat":17.658},{"s":"j","lon":-65.994,"lat":17.682},{"s":"j","lon":-65.983,"lat":17.671},{"s":"j","lon":-65.931,"lat":17.653},{"s":"j","lon":-65.874,"lat":17.642},{"s":"j","lon":-65.854,"lat":17.620},{"s":"j","lon":-65.802,"lat":17.602},{"s":"j","lon":-65.772,"lat":17.598},{"s":"j","lon":-65.756,"lat":17.569},{"s":"j","lon":-65.693,"lat":17.549},{"s":"j","lon":-65.604,"lat":17.598},{"s":"j","lon":-65.582,"lat":17.593},{"s":"j","lon":-65.575,"lat":17.571},{"s":"j","lon":-65.514,"lat":17.549},{"s":"j","lon":-65.461,"lat":17.547},{"s":"j","lon":-65.393,"lat":17.524},{"s":"j","lon":-65.291,"lat":17.560},{"s":"j","lon":-65.228,"lat":17.569},{"s":"j","lon":-65.173,"lat":17.553},{"s":"j","lon":-65.110,"lat":17.571},{"s":"j","lon":-65.069,"lat":17.553},{"s":"j","lon":-65.026,"lat":17.549},{"s":"j","lon":-64.997,"lat":17.524},{"s":"j","lon":-64.978,"lat":17.509},
{"s":"k","lon":-66.854,"lat":17.702},{"s":"k","lon":-66.811,"lat":17.695},{"s":"k","lon":-66.777,"lat":17.740},{"s":"k","lon":-66.731,"lat":17.695},{"s":"k","lon":-66.686,"lat":17.684},{"s":"k","lon":-66.645,"lat":17.678},{"s":"k","lon":-66.611,"lat":17.702},{"s":"k","lon":-66.573,"lat":17.698},{"s":"k","lon":-66.543,"lat":17.704},{"s":"k","lon":-66.527,"lat":17.693},{"s":"k","lon":-66.466,"lat":17.696},{"s":"k","lon":-66.432,"lat":17.687},{"s":"k","lon":-66.375,"lat":17.685},{"s":"k","lon":-66.323,"lat":17.664},{"s":"k","lon":-66.285,"lat":17.655},{"s":"k","lon":-66.232,"lat":17.633},{"s":"k","lon":-66.194,"lat":17.627},{"s":"k","lon":-66.126,"lat":17.627},{"s":"k","lon":-66.103,"lat":17.602},{"s":"k","lon":-66.058,"lat":17.582},{"s":"k","lon":-66.033,"lat":17.620},{"s":"k","lon":-66.010,"lat":17.638},{"s":"k","lon":-65.954,"lat":17.627},{"s":"k","lon":-65.892,"lat":17.609},{"s":"k","lon":-65.863,"lat":17.560},{"s":"k","lon":-65.840,"lat":17.555},{"s":"k","lon":-65.808,"lat":17.575},{"s":"k","lon":-65.795,"lat":17.575},{"s":"k","lon":-65.763,"lat":17.558},{"s":"k","lon":-65.704,"lat":17.522},{"s":"k","lon":-65.650,"lat":17.520},{"s":"k","lon":-65.609,"lat":17.555},{"s":"k","lon":-65.545,"lat":17.520},{"s":"k","lon":-65.500,"lat":17.515},{"s":"k","lon":-65.455,"lat":17.509},
{"s":"l","lon":-66.901,"lat":17.664},{"s":"l","lon":-66.879,"lat":17.675},{"s":"l","lon":-66.861,"lat":17.675},{"s":"l","lon":-66.856,"lat":17.657},{"s":"l","lon":-66.806,"lat":17.624},{"s":"l","lon":-66.799,"lat":17.657},{"s":"l","lon":-66.761,"lat":17.691},{"s":"l","lon":-66.750,"lat":17.675},{"s":"l","lon":-66.702,"lat":17.653},{"s":"l","lon":-66.657,"lat":17.640},{"s":"l","lon":-66.561,"lat":17.680},{"s":"l","lon":-66.523,"lat":17.658},{"s":"l","lon":-66.511,"lat":17.627},{"s":"l","lon":-66.477,"lat":17.620},{"s":"l","lon":-66.443,"lat":17.584},{"s":"l","lon":-66.339,"lat":17.620},{"s":"l","lon":-66.228,"lat":17.609},{"s":"l","lon":-66.210,"lat":17.589},{"s":"l","lon":-66.158,"lat":17.593},{"s":"l","lon":-66.090,"lat":17.564},{"s":"l","lon":-66.044,"lat":17.546},{"s":"l","lon":-66.022,"lat":17.558},{"s":"l","lon":-66.012,"lat":17.580},{"s":"l","lon":-65.976,"lat":17.593},{"s":"l","lon":-65.922,"lat":17.593},{"s":"l","lon":-65.892,"lat":17.575},{"s":"l","lon":-65.865,"lat":17.538},{"s":"l","lon":-65.842,"lat":17.531},{"s":"l","lon":-65.808,"lat":17.553},{"s":"l","lon":-65.727,"lat":17.509},
{"s":"m","lon":-65.332,"lat":17.509},{"s":"m","lon":-65.310,"lat":17.518},
{"s":"m2","lon":-65.201,"lat":17.527},{"s":"m2","lon":-65.187,"lat":17.509},
{"s":"n","lon":-64.797,"lat":17.509},{"s":"n","lon":-64.706,"lat":17.531},{"s":"n","lon":-64.684,"lat":17.538},{"s":"n","lon":-64.561,"lat":17.542},{"s":"n","lon":-64.520,"lat":17.560},{"s":"n","lon":-64.446,"lat":17.604},{"s":"n","lon":-64.425,"lat":17.582},{"s":"n","lon":-64.416,"lat":17.580},{"s":"n","lon":-64.305,"lat":17.602},{"s":"n","lon":-64.289,"lat":17.604},{"s":"n","lon":-64.260,"lat":17.693},{"s":"n","lon":-64.198,"lat":17.620},
{"s":"n2","lon":-64.695,"lat":17.509},{"s":"n2","lon":-64.673,"lat":17.518},{"s":"n2","lon":-64.639,"lat":17.509},
{"s":"n3","lon":-64.423,"lat":17.509},{"s":"n3","lon":-64.396,"lat":17.531},{"s":"n3","lon":-64.310,"lat":17.509},
{"s":"n4","lon":-64.289,"lat":17.509},{"s":"n4","lon":-64.260,"lat":17.593},
{"s":"o","lon":-65.110,"lat":17.771},{"s":"o","lon":-65.128,"lat":17.760},{"s":"o","lon":-65.167,"lat":17.680},{"s":"o","lon":-65.194,"lat":17.627},{"s":"o","lon":-65.171,"lat":17.598},{"s":"o","lon":-65.149,"lat":17.604},{"s":"o","lon":-65.144,"lat":17.627},{"s":"o","lon":-65.076,"lat":17.638},{"s":"o","lon":-65.058,"lat":17.627},{"s":"o","lon":-65.037,"lat":17.598},{"s":"o","lon":-65.003,"lat":17.582},{"s":"o","lon":-64.992,"lat":17.547},{"s":"o","lon":-64.947,"lat":17.524},{"s":"o","lon":-64.922,"lat":17.524},{"s":"o","lon":-64.910,"lat":17.542},{"s":"o","lon":-64.838,"lat":17.520},{"s":"o","lon":-64.743,"lat":17.558},{"s":"o","lon":-64.684,"lat":17.553},{"s":"o","lon":-64.629,"lat":17.571},{"s":"o","lon":-64.593,"lat":17.571},{"s":"o","lon":-64.561,"lat":17.582},{"s":"o","lon":-64.516,"lat":17.560},{"s":"o","lon":-64.441,"lat":17.671},{"s":"o","lon":-64.391,"lat":17.642},{"s":"o","lon":-64.366,"lat":17.680},{"s":"o","lon":-64.289,"lat":17.715},{"s":"o","lon":-64.264,"lat":17.742},{"s":"o","lon":-64.237,"lat":17.742},{"s":"o","lon":-64.214,"lat":17.724},{"s":"o","lon":-64.198,"lat":17.671},
{"s":"r","lon":-64.638,"lat":17.846},{"s":"r","lon":-64.661,"lat":17.842},{"s":"r","lon":-64.668,"lat":17.826},{"s":"r","lon":-64.725,"lat":17.804},{"s":"r","lon":-64.743,"lat":17.824},{"s":"r","lon":-64.820,"lat":17.808},{"s":"r","lon":-64.895,"lat":17.813},{"s":"r","lon":-64.924,"lat":17.797},{"s":"r","lon":-64.997,"lat":17.808},{"s":"r","lon":-65.047,"lat":17.782},{"s":"r","lon":-65.081,"lat":17.755},{"s":"r","lon":-65.106,"lat":17.771},{"s":"r","lon":-65.144,"lat":17.762},{"s":"r","lon":-65.241,"lat":17.788},{"s":"r","lon":-65.325,"lat":17.709},{"s":"r","lon":-65.375,"lat":17.691},{"s":"r","lon":-65.398,"lat":17.693},{"s":"r","lon":-65.400,"lat":17.715},{"s":"r","lon":-65.375,"lat":17.746},{"s":"r","lon":-65.325,"lat":17.782},{"s":"r","lon":-65.275,"lat":17.804},{"s":"r","lon":-65.285,"lat":17.815},{"s":"r","lon":-65.325,"lat":17.811},{"s":"r","lon":-65.364,"lat":17.820},{"s":"r","lon":-65.439,"lat":17.791},{"s":"r","lon":-65.491,"lat":17.753},{"s":"r","lon":-65.545,"lat":17.737},{"s":"r","lon":-65.575,"lat":17.797},{"s":"r","lon":-65.579,"lat":17.824},{"s":"r","lon":-65.552,"lat":17.859},{"s":"r","lon":-65.480,"lat":17.908},{"s":"r","lon":-65.473,"lat":17.942},{"s":"r","lon":-65.443,"lat":17.957},{"s":"r","lon":-65.360,"lat":17.959},{"s":"r","lon":-65.337,"lat":17.986},{"s":"r","lon":-65.310,"lat":17.993},{"s":"r","lon":-65.241,"lat":18.015},{"s":"r","lon":-65.178,"lat":18.015},{"s":"r","lon":-65.137,"lat":18.035},{"s":"r","lon":-65.099,"lat":18.037},{"s":"r","lon":-65.060,"lat":18.041},{"s":"r","lon":-65.008,"lat":18.070},{"s":"r","lon":-64.992,"lat":18.101},{"s":"r","lon":-64.963,"lat":18.112},{"s":"r","lon":-64.911,"lat":18.057},{"s":"r","lon":-64.883,"lat":18.061},{"s":"r","lon":-64.765,"lat":18.061},{"s":"r","lon":-64.752,"lat":18.053},{"s":"r","lon":-64.645,"lat":18.086},{"s":"r","lon":-64.641,"lat":18.057},{"s":"r","lon":-64.661,"lat":18.019},{"s":"r","lon":-64.668,"lat":17.990},{"s":"r","lon":-64.627,"lat":17.930},{"s":"r","lon":-64.638,"lat":17.897},{"s":"r","lon":-64.729,"lat":17.875},{"s":"r","lon":-64.822,"lat":17.846},{"s":"r","lon":-64.895,"lat":17.840},{"s":"r","lon":-64.924,"lat":17.820},{"s":"r","lon":-64.974,"lat":17.835},{"s":"r","lon":-65.024,"lat":17.826},{"s":"r","lon":-65.076,"lat":17.797},{"s":"r","lon":-65.092,"lat":17.793},{"s":"r","lon":-65.121,"lat":17.802},{"s":"r","lon":-65.139,"lat":17.791},{"s":"r","lon":-65.189,"lat":17.802},{"s":"r","lon":-65.207,"lat":17.826},{"s":"r","lon":-65.325,"lat":17.842},{"s":"r","lon":-65.364,"lat":17.815},{"s":"r","lon":-65.432,"lat":17.782},{"s":"r","lon":-65.500,"lat":17.735},{"s":"r","lon":-65.559,"lat":17.718},{"s":"r","lon":-65.591,"lat":17.731},{"s":"r","lon":-65.591,"lat":17.746},{"s":"r","lon":-65.625,"lat":17.797},{"s":"r","lon":-65.625,"lat":17.826},{"s":"r","lon":-65.591,"lat":17.859},{"s":"r","lon":-65.593,"lat":17.879},{"s":"r","lon":-65.530,"lat":17.908},{"s":"r","lon":-65.525,"lat":17.946},{"s":"r","lon":-65.514,"lat":17.968},{"s":"r","lon":-65.375,"lat":17.975},{"s":"r","lon":-65.373,"lat":17.993},{"s":"r","lon":-65.319,"lat":18.015},{"s":"r","lon":-65.241,"lat":18.035},
{"s":"r3","lon":-65.137,"lat":18.053},{"s":"r3","lon":-65.099,"lat":18.037},
{"s":"t","lon":-65.137,"lat":17.782},{"s":"t","lon":-65.189,"lat":17.791},{"s":"t","lon":-65.219,"lat":17.815},{"s":"t","lon":-65.332,"lat":17.831},{"s":"t","lon":-65.364,"lat":17.804},{"s":"t","lon":-65.439,"lat":17.775},{"s":"t","lon":-65.477,"lat":17.746},{"s":"t","lon":-65.536,"lat":17.691},{"s":"t","lon":-65.559,"lat":17.686},{"s":"t","lon":-65.604,"lat":17.709},{"s":"t","lon":-65.643,"lat":17.749},{"s":"t","lon":-65.659,"lat":17.793},{"s":"t","lon":-65.625,"lat":17.842},{"s":"t","lon":-65.625,"lat":17.864},{"s":"t","lon":-65.604,"lat":17.891},{"s":"t","lon":-65.604,"lat":17.908},{"s":"t","lon":-65.620,"lat":17.930},{"s":"t","lon":-65.616,"lat":17.946},{"s":"t","lon":-65.575,"lat":17.968},{"s":"t","lon":-65.541,"lat":17.973},{"s":"t","lon":-65.514,"lat":17.993},{"s":"t","lon":-65.416,"lat":17.997},{"s":"t","lon":-65.371,"lat":18.019},{"s":"t","lon":-65.319,"lat":18.026},{"s":"t","lon":-65.269,"lat":18.037},{"s":"t","lon":-65.205,"lat":18.041},{"s":"t","lon":-65.160,"lat":18.057},{"s":"t","lon":-65.121,"lat":18.081},{"s":"t","lon":-65.076,"lat":18.081},{"s":"t","lon":-65.053,"lat":18.092},{"s":"t","lon":-65.053,"lat":18.135},{"s":"t","lon":-64.924,"lat":18.126},{"s":"t","lon":-64.849,"lat":18.121},{"s":"t","lon":-64.781,"lat":18.132},{"s":"t","lon":-64.752,"lat":18.115},{"s":"t","lon":-64.663,"lat":18.141},{"s":"t","lon":-64.629,"lat":18.141},{"s":"t","lon":-64.600,"lat":18.115},{"s":"t","lon":-64.582,"lat":18.079},{"s":"t","lon":-64.564,"lat":18.026},{"s":"t","lon":-64.593,"lat":17.975},{"s":"t","lon":-64.577,"lat":17.924},{"s":"t","lon":-64.595,"lat":17.879},{"s":"t","lon":-64.668,"lat":17.853},{"s":"t","lon":-64.725,"lat":17.822},{"s":"t","lon":-64.743,"lat":17.835},{"s":"t","lon":-64.822,"lat":17.815},{"s":"t","lon":-64.895,"lat":17.824},{"s":"t","lon":-64.924,"lat":17.802},{"s":"t","lon":-64.974,"lat":17.815},{"s":"t","lon":-65.024,"lat":17.808},{"s":"t","lon":-65.058,"lat":17.791},{"s":"t","lon":-65.092,"lat":17.775},{"s":"t","lon":-65.121,"lat":17.782},{"s":"t","lon":-65.137,"lat":17.782},
{"s":"u","lon":-64.842,"lat":18.088},{"s":"u","lon":-64.804,"lat":18.092},{"s":"u","lon":-64.781,"lat":18.101},{"s":"u","lon":-64.759,"lat":18.086},{"s":"u","lon":-64.661,"lat":18.115},{"s":"u","lon":-64.618,"lat":18.092},{"s":"u","lon":-64.604,"lat":18.048},{"s":"u","lon":-64.627,"lat":18.019},{"s":"u","lon":-64.627,"lat":17.982},{"s":"u","lon":-64.602,"lat":17.926},{"s":"u","lon":-64.623,"lat":17.882},{"s":"u","lon":-64.695,"lat":17.868},{"s":"u","lon":-64.725,"lat":17.842},{"s":"u","lon":-64.820,"lat":17.837},{"s":"u","lon":-64.895,"lat":17.835},{"s":"u","lon":-64.924,"lat":17.813},{"s":"u","lon":-64.974,"lat":17.826},{"s":"u","lon":-65.024,"lat":17.817},{"s":"u","lon":-65.065,"lat":17.797},{"s":"u","lon":-65.092,"lat":17.782},
{"s":"v","lon":-64.412,"lat":17.915},{"s":"v","lon":-64.393,"lat":17.942},{"s":"v","lon":-64.425,"lat":17.975},{"s":"v","lon":-64.425,"lat":17.993},{"s":"v","lon":-64.384,"lat":17.990},{"s":"v","lon":-64.362,"lat":17.975},{"s":"v","lon":-64.355,"lat":17.942},{"s":"v","lon":-64.339,"lat":17.886},{"s":"v","lon":-64.339,"lat":17.848},{"s":"v","lon":-64.355,"lat":17.813},{"s":"v","lon":-64.396,"lat":17.793},{"s":"v","lon":-64.373,"lat":17.775},{"s":"v","lon":-64.378,"lat":17.749},{"s":"v","lon":-64.412,"lat":17.737},{"s":"v","lon":-64.441,"lat":17.737},{"s":"v","lon":-64.464,"lat":17.749},{"s":"v","lon":-64.475,"lat":17.742},{"s":"v","lon":-64.471,"lat":17.693},{"s":"v","lon":-64.486,"lat":17.664},{"s":"v","lon":-64.577,"lat":17.646},{"s":"v","lon":-64.650,"lat":17.642},{"s":"v","lon":-64.690,"lat":17.626},{"s":"v","lon":-64.736,"lat":17.613},{"s":"v","lon":-64.797,"lat":17.582},{"s":"v","lon":-64.820,"lat":17.547},{"s":"v","lon":-64.856,"lat":17.538},{"s":"v","lon":-64.883,"lat":17.549},{"s":"v","lon":-64.940,"lat":17.558},{"s":"v","lon":-64.992,"lat":17.624},{"s":"v","lon":-64.985,"lat":17.658},{"s":"v","lon":-64.992,"lat":17.675},{"s":"v","lon":-64.978,"lat":17.720},{"s":"v","lon":-64.974,"lat":17.737},{"s":"v","lon":-64.940,"lat":17.749},{"s":"v","lon":-64.917,"lat":17.782},{"s":"v","lon":-64.895,"lat":17.802},{"s":"v","lon":-64.820,"lat":17.797},{"s":"v","lon":-64.752,"lat":17.813},{"s":"v","lon":-64.725,"lat":17.797},{"s":"v","lon":-64.675,"lat":17.820},{"s":"v","lon":-64.661,"lat":17.835},{"s":"v","lon":-64.593,"lat":17.855},{"s":"v","lon":-64.550,"lat":17.888},{"s":"v","lon":-64.520,"lat":17.897},
{"s":"w","lon":-64.638,"lat":17.842},{"s":"w","lon":-64.661,"lat":17.831},{"s":"w","lon":-64.720,"lat":17.791},{"s":"w","lon":-64.752,"lat":17.804},{"s":"w","lon":-64.820,"lat":17.791},{"s":"w","lon":-64.906,"lat":17.780},{"s":"w","lon":-64.917,"lat":17.731},{"s":"w","lon":-64.956,"lat":17.664},{"s":"w","lon":-64.958,"lat":17.635},{"s":"w","lon":-64.940,"lat":17.604},{"s":"w","lon":-64.895,"lat":17.598},{"s":"w","lon":-64.856,"lat":17.575},{"s":"w","lon":-64.838,"lat":17.613},{"s":"w","lon":-64.788,"lat":17.642},{"s":"w","lon":-64.729,"lat":17.671},{"s":"w","lon":-64.638,"lat":17.693},{"s":"w","lon":-64.593,"lat":17.702},{"s":"w","lon":-64.505,"lat":17.704},{"s":"w","lon":-64.507,"lat":17.746},{"s":"w","lon":-64.491,"lat":17.782},{"s":"w","lon":-64.441,"lat":17.802},{"s":"w","lon":-64.403,"lat":17.826},{"s":"w","lon":-64.403,"lat":17.846},{"s":"w","lon":-64.441,"lat":17.868},{"s":"w","lon":-64.516,"lat":17.875},{"s":"w","lon":-64.548,"lat":17.842},
{"s":"w2","lon":-64.525,"lat":17.842},{"s":"w2","lon":-64.554,"lat":17.824},{"s":"w2","lon":-64.638,"lat":17.833},{"s":"w2","lon":-64.661,"lat":17.820},{"s":"w2","lon":-64.679,"lat":17.797},{"s":"w2","lon":-64.725,"lat":17.786},{"s":"w2","lon":-64.752,"lat":17.800},{"s":"w2","lon":-64.820,"lat":17.789},{"s":"w2","lon":-64.883,"lat":17.780},
{"s":"w3","lon":-64.430,"lat":17.842},{"s":"w3","lon":-64.430,"lat":17.820},{"s":"w3","lon":-64.452,"lat":17.802},
{"s":"z4","lon":-65.060,"lat":17.724},{"s":"z4","lon":-64.990,"lat":17.760},{"s":"z4","lon":-64.988,"lat":17.775},{"s":"z4","lon":-65.001,"lat":17.791},{"s":"z4","lon":-65.031,"lat":17.793},{"s":"z4","lon":-65.053,"lat":17.769},{"s":"z4","lon":-65.060,"lat":17.724},
{"s":"x","lon":-64.471,"lat":18.223},{"s":"x","lon":-64.498,"lat":18.208},{"s":"x","lon":-64.525,"lat":18.212},{"s":"x","lon":-64.527,"lat":18.257},{"s":"x","lon":-64.502,"lat":18.277},{"s":"x","lon":-64.457,"lat":18.285},{"s":"x","lon":-64.396,"lat":18.337},{"s":"x","lon":-64.335,"lat":18.359},{"s":"x","lon":-64.276,"lat":18.376},{"s":"x","lon":-64.264,"lat":18.359},{"s":"x","lon":-64.289,"lat":18.301},{"s":"x","lon":-64.328,"lat":18.257},{"s":"x","lon":-64.366,"lat":18.241},
{"s":"y","lon":-64.366,"lat":18.303},{"s":"y","lon":-64.366,"lat":18.314},{"s":"y","lon":-64.328,"lat":18.337},{"s":"y","lon":-64.310,"lat":18.325},{"s":"y","lon":-64.339,"lat":18.285},{"s":"y","lon":-64.361,"lat":18.290},{"s":"y","lon":-64.366,"lat":18.303},
{"s":"z","lon":-64.198,"lat":18.286},{"s":"z","lon":-64.237,"lat":18.259},{"s":"z","lon":-64.253,"lat":18.257},{"s":"z","lon":-64.294,"lat":18.248},{"s":"z","lon":-64.298,"lat":18.270},{"s":"z","lon":-64.289,"lat":18.286},{"s":"z","lon":-64.244,"lat":18.374},{"s":"z","lon":-64.207,"lat":18.412},{"s":"z","lon":-64.198,"lat":18.419},
{"s":"z5","lon":-64.198,"lat":18.397},{"s":"z5","lon":-64.232,"lat":18.352},{"s":"z5","lon":-64.248,"lat":18.325},{"s":"z5","lon":-64.225,"lat":18.308},{"s":"z5","lon":-64.198,"lat":18.345},
{"s":"aa","lon":-64.198,"lat":18.259},{"s":"aa","lon":-64.248,"lat":18.234},{"s":"aa","lon":-64.294,"lat":18.203},{"s":"aa","lon":-64.330,"lat":18.168},{"s":"aa","lon":-64.305,"lat":18.119},{"s":"aa","lon":-64.282,"lat":18.086},{"s":"aa","lon":-64.278,"lat":18.019},{"s":"aa","lon":-64.275,"lat":17.982},{"s":"aa","lon":-64.264,"lat":17.926},
{"s":"ab","lon":-64.266,"lat":18.179},{"s":"ab","lon":-64.298,"lat":18.179},{"s":"ab","lon":-64.312,"lat":18.159},{"s":"ab","lon":-64.282,"lat":18.092},{"s":"ab","lon":-64.266,"lat":18.070},{"s":"ab","lon":-64.264,"lat":18.019},{"s":"ab","lon":-64.255,"lat":17.982},{"s":"ab","lon":-64.241,"lat":17.966},{"s":"ab","lon":-64.198,"lat":17.964},
{"s":"ac","lon":-64.198,"lat":17.897},{"s":"ac","lon":-64.237,"lat":17.893},{"s":"ac","lon":-64.276,"lat":17.864},{"s":"ac","lon":-64.276,"lat":17.835},{"s":"ac","lon":-64.255,"lat":17.808},{"s":"ac","lon":-64.198,"lat":17.804},
{"s":"z3","lon":-64.198,"lat":18.473},{"s":"z3","lon":-64.205,"lat":18.484},{"s":"z3","lon":-64.198,"lat":18.496},
{"s":"l1","lon":-65.813,"lat":17.677},{"s":"l1","lon":-65.786,"lat":17.680},{"s":"l1","lon":-65.772,"lat":17.689},{"s":"l1","lon":-65.765,"lat":17.671},{"s":"l1","lon":-65.790,"lat":17.634},{"s":"l1","lon":-65.797,"lat":17.657},{"s":"l1","lon":-65.813,"lat":17.677},
{"s":"l2","lon":-65.353,"lat":17.642},{"s":"l2","lon":-65.343,"lat":17.660},{"s":"l2","lon":-65.330,"lat":17.660},{"s":"l2","lon":-65.321,"lat":17.642},{"s":"l2","lon":-65.332,"lat":17.635},{"s":"l2","lon":-65.353,"lat":17.642},
{"s":"l3","lon":-65.722,"lat":17.826},{"s":"l3","lon":-65.693,"lat":17.842},{"s":"l3","lon":-65.691,"lat":17.824},{"s":"l3","lon":-65.708,"lat":17.811},{"s":"l3","lon":-65.722,"lat":17.826},
{"s":"l4","lon":-65.729,"lat":17.826},{"s":"l4","lon":-65.715,"lat":17.848},{"s":"l4","lon":-65.659,"lat":17.859},{"s":"l4","lon":-65.666,"lat":17.835},{"s":"l4","lon":-65.659,"lat":17.826},{"s":"l4","lon":-65.706,"lat":17.788},{"s":"l4","lon":-65.729,"lat":17.797},{"s":"l4","lon":-65.733,"lat":17.824},{"s":"l4","lon":-65.729,"lat":17.826},
{"s":"l5","lon":-65.953,"lat":17.817},{"s":"l5","lon":-65.965,"lat":17.813},{"s":"l5","lon":-65.965,"lat":17.793},{"s":"l5","lon":-65.926,"lat":17.786},{"s":"l5","lon":-65.897,"lat":17.771},{"s":"l5","lon":-65.895,"lat":17.757},{"s":"l5","lon":-65.877,"lat":17.760},{"s":"l5","lon":-65.863,"lat":17.780},{"s":"l5","lon":-65.865,"lat":17.791},
{"s":"l6","lon":-66.534,"lat":17.908},{"s":"l6","lon":-66.525,"lat":17.913},{"s":"l6","lon":-66.520,"lat":17.906},{"s":"l6","lon":-66.525,"lat":17.900},{"s":"l6","lon":-66.534,"lat":17.908},
{"s":"l7","lon":-66.366,"lat":17.742},{"s":"l7","lon":-66.357,"lat":17.746},{"s":"l7","lon":-66.346,"lat":17.742},{"s":"l7","lon":-66.357,"lat":17.740},{"s":"l7","lon":-66.366,"lat":17.742},
{"s":"l8","lon":-66.214,"lat":17.760},{"s":"l8","lon":-66.176,"lat":17.760},{"s":"l8","lon":-66.176,"lat":17.742},{"s":"l8","lon":-66.194,"lat":17.733},{"s":"l8","lon":-66.209,"lat":17.738},{"s":"l8","lon":-66.214,"lat":17.760},
{"s":"d1","lon":-65.795,"lat":17.793},{"s":"d1","lon":-65.793,"lat":17.791},
{"s":"d2","lon":-65.709,"lat":17.645},{"s":"d2","lon":-65.709,"lat":17.640},
{"s":"d3","lon":-64.408,"lat":17.896},{"s":"d3","lon":-64.406,"lat":17.894},
{"s":"d4","lon":-64.226,"lat":18.426},{"s":"d4","lon":-64.222,"lat":18.426},
{"s":"d5","lon":-64.226,"lat":18.325},{"s":"d5","lon":-64.224,"lat":18.322},
{"s":"o1","lon":-64.468,"lat":18.507},{"s":"o1","lon":-64.459,"lat":18.512},{"s":"o1","lon":-64.450,"lat":18.507},{"s":"o1","lon":-64.459,"lat":18.503},{"s":"o1","lon":-64.468,"lat":18.507},
{"s":"o2","lon":-64.470,"lat":18.405},{"s":"o2","lon":-64.463,"lat":18.410},{"s":"o2","lon":-64.458,"lat":18.405},{"s":"o2","lon":-64.465,"lat":18.401},{"s":"o2","lon":-64.470,"lat":18.405}
],
"coast":[
{"s":"a0","lon":-66.901,"lat":18.494},{"s":"a0","lon":-66.858,"lat":18.494},
{"s":"a","lon":-66.811,"lat":18.494},{"s":"a","lon":-66.777,"lat":18.494},{"s":"a","lon":-66.759,"lat":18.478},{"s":"a","lon":-66.709,"lat":18.483},{"s":"a","lon":-66.686,"lat":18.494},{"s":"a","lon":-66.611,"lat":18.496},{"s":"a","lon":-66.550,"lat":18.492},{"s":"a","lon":-66.527,"lat":18.481},{"s":"a","lon":-66.477,"lat":18.476},{"s":"a","lon":-66.459,"lat":18.481},{"s":"a","lon":-66.443,"lat":18.494},{"s":"a","lon":-66.409,"lat":18.496},{"s":"a","lon":-66.391,"lat":18.492},{"s":"a","lon":-66.346,"lat":18.494},{"s":"a","lon":-66.328,"lat":18.481},{"s":"a","lon":-66.294,"lat":18.483},{"s":"a","lon":-66.228,"lat":18.472},{"s":"a","lon":-66.205,"lat":18.472},{"s":"a","lon":-66.176,"lat":18.467},{"s":"a","lon":-66.142,"lat":18.469},{"s":"a","lon":-66.135,"lat":18.476},{"s":"a","lon":-66.101,"lat":18.476},{"s":"a","lon":-66.092,"lat":18.469},{"s":"a","lon":-66.062,"lat":18.467},{"s":"a","lon":-66.035,"lat":18.454},{"s":"a","lon":-66.012,"lat":18.454},{"s":"a","lon":-65.994,"lat":18.463},{"s":"a","lon":-65.965,"lat":18.458},{"s":"a","lon":-65.949,"lat":18.452},{"s":"a","lon":-65.922,"lat":18.454},{"s":"a","lon":-65.910,"lat":18.461},{"s":"a","lon":-65.892,"lat":18.454},{"s":"a","lon":-65.858,"lat":18.447},{"s":"a","lon":-65.824,"lat":18.418},{"s":"a","lon":-65.790,"lat":18.414},{"s":"a","lon":-65.740,"lat":18.390},{"s":"a","lon":-65.711,"lat":18.381},{"s":"a","lon":-65.693,"lat":18.381},{"s":"a","lon":-65.677,"lat":18.368},{"s":"a","lon":-65.654,"lat":18.381},{"s":"a","lon":-65.638,"lat":18.383},{"s":"a","lon":-65.634,"lat":18.352},{"s":"a","lon":-65.636,"lat":18.314},{"s":"a","lon":-65.645,"lat":18.292},{"s":"a","lon":-65.632,"lat":18.270},{"s":"a","lon":-65.613,"lat":18.257},{"s":"a","lon":-65.593,"lat":18.266},{"s":"a","lon":-65.586,"lat":18.257},{"s":"a","lon":-65.622,"lat":18.234},{"s":"a","lon":-65.643,"lat":18.230},{"s":"a","lon":-65.647,"lat":18.208},{"s":"a","lon":-65.658,"lat":18.203},{"s":"a","lon":-65.675,"lat":18.212},{"s":"a","lon":-65.711,"lat":18.183},{"s":"a","lon":-65.729,"lat":18.192},{"s":"a","lon":-65.786,"lat":18.146},{"s":"a","lon":-65.786,"lat":18.123},{"s":"a","lon":-65.802,"lat":18.075},{"s":"a","lon":-65.829,"lat":18.070},{"s":"a","lon":-65.849,"lat":18.059},{"s":"a","lon":-65.840,"lat":18.046},{"s":"a","lon":-65.840,"lat":18.026},{"s":"a","lon":-65.876,"lat":18.017},{"s":"a","lon":-65.908,"lat":18.002},{"s":"a","lon":-65.926,"lat":17.990},{"s":"a","lon":-66.005,"lat":17.984},{"s":"a","lon":-66.028,"lat":17.986},{"s":"a","lon":-66.062,"lat":17.968},{"s":"a","lon":-66.112,"lat":17.968},{"s":"a","lon":-66.130,"lat":17.953},{"s":"a","lon":-66.160,"lat":17.946},{"s":"a","lon":-66.187,"lat":17.957},{"s":"a","lon":-66.216,"lat":17.968},{"s":"a","lon":-66.239,"lat":17.964},{"s":"a","lon":-66.260,"lat":17.948},{"s":"a","lon":-66.290,"lat":17.946},{"s":"a","lon":-66.332,"lat":17.979},{"s":"a","lon":-66.364,"lat":17.983},{"s":"a","lon":-66.407,"lat":17.948},{"s":"a","lon":-66.423,"lat":17.946},{"s":"a","lon":-66.450,"lat":17.981},{"s":"a","lon":-66.477,"lat":17.999},{"s":"a","lon":-66.511,"lat":18.000},{"s":"a","lon":-66.543,"lat":18.012},{"s":"a","lon":-66.557,"lat":18.009},{"s":"a","lon":-66.590,"lat":18.002},{"s":"a","lon":-66.613,"lat":17.991},{"s":"a","lon":-66.656,"lat":17.979},{"s":"a","lon":-66.679,"lat":17.979},{"s":"a","lon":-66.709,"lat":17.986},{"s":"a","lon":-66.734,"lat":18.002},{"s":"a","lon":-66.759,"lat":18.002},{"s":"a","lon":-66.777,"lat":18.017},{"s":"a","lon":-66.786,"lat":18.013},{"s":"a","lon":-66.795,"lat":17.977},{"s":"a","lon":-66.829,"lat":17.968},{"s":"a","lon":-66.838,"lat":17.960},{"s":"a","lon":-66.852,"lat":17.959},{"s":"a","lon":-66.860,"lat":17.966},{"s":"a","lon":-66.874,"lat":17.959},{"s":"a","lon":-66.901,"lat":17.955},
{"s":"b","lon":-66.135,"lat":18.461},{"s":"b","lon":-66.108,"lat":18.468},{"s":"b","lon":-66.101,"lat":18.445},{"s":"b","lon":-66.112,"lat":18.436},{"s":"b","lon":-66.135,"lat":18.461},
{"s":"c","lon":-65.628,"lat":18.390},{"s":"c","lon":-65.623,"lat":18.396},{"s":"c","lon":-65.620,"lat":18.390},{"s":"c","lon":-65.624,"lat":18.387},{"s":"c","lon":-65.628,"lat":18.390},
{"s":"d","lon":-65.581,"lat":18.359},{"s":"d","lon":-65.577,"lat":18.363},{"s":"d","lon":-65.573,"lat":18.359},{"s":"d","lon":-65.577,"lat":18.355},{"s":"d","lon":-65.581,"lat":18.359},
{"s":"e","lon":-66.219,"lat":17.944},{"s":"e","lon":-66.212,"lat":17.950},{"s":"e","lon":-66.205,"lat":17.944},{"s":"e","lon":-66.212,"lat":17.937},{"s":"e","lon":-66.219,"lat":17.944},
{"s":"f","lon":-65.262,"lat":18.328},{"s":"f","lon":-65.246,"lat":18.325},{"s":"f","lon":-65.273,"lat":18.303},{"s":"f","lon":-65.294,"lat":18.314},{"s":"f","lon":-65.310,"lat":18.303},{"s":"f","lon":-65.348,"lat":18.337},{"s":"f","lon":-65.348,"lat":18.345},{"s":"f","lon":-65.330,"lat":18.348},{"s":"f","lon":-65.321,"lat":18.341},{"s":"f","lon":-65.307,"lat":18.348},{"s":"f","lon":-65.289,"lat":18.325},
{"s":"g","lon":-65.591,"lat":18.126},{"s":"g","lon":-65.575,"lat":18.135},{"s":"g","lon":-65.523,"lat":18.137},{"s":"g","lon":-65.507,"lat":18.148},{"s":"g","lon":-65.461,"lat":18.150},{"s":"g","lon":-65.446,"lat":18.166},{"s":"g","lon":-65.371,"lat":18.168},{"s":"g","lon":-65.348,"lat":18.159},{"s":"g","lon":-65.287,"lat":18.144},{"s":"g","lon":-65.291,"lat":18.137},{"s":"g","lon":-65.364,"lat":18.137},{"s":"g","lon":-65.378,"lat":18.135},{"s":"g","lon":-65.393,"lat":18.119},{"s":"g","lon":-65.423,"lat":18.124},{"s":"g","lon":-65.461,"lat":18.101},{"s":"g","lon":-65.477,"lat":18.090},{"s":"g","lon":-65.536,"lat":18.086},{"s":"g","lon":-65.568,"lat":18.097},{"s":"g","lon":-65.586,"lat":18.119},{"s":"g","lon":-65.591,"lat":18.126},
{"s":"h","lon":-64.963,"lat":18.379},{"s":"h","lon":-64.945,"lat":18.370},{"s":"h","lon":-64.901,"lat":18.365},{"s":"h","lon":-64.883,"lat":18.359},{"s":"h","lon":-64.863,"lat":18.341},{"s":"h","lon":-64.888,"lat":18.323},{"s":"h","lon":-64.906,"lat":18.319},{"s":"h","lon":-64.922,"lat":18.325},{"s":"h","lon":-64.947,"lat":18.352},{"s":"h","lon":-64.974,"lat":18.348},{"s":"h","lon":-64.990,"lat":18.356},{"s":"h","lon":-65.015,"lat":18.356},{"s":"h","lon":-65.047,"lat":18.356},{"s":"h","lon":-65.024,"lat":18.359},{"s":"h","lon":-65.001,"lat":18.379},{"s":"h","lon":-64.997,"lat":18.379},
{"s":"i","lon":-64.661,"lat":18.474},{"s":"i","lon":-64.675,"lat":18.459},{"s":"i","lon":-64.690,"lat":18.454},{"s":"i","lon":-64.709,"lat":18.456},{"s":"i","lon":-64.729,"lat":18.472},{"s":"i","lon":-64.759,"lat":18.470},{"s":"i","lon":-64.786,"lat":18.459},{"s":"i","lon":-64.775,"lat":18.448},{"s":"i","lon":-64.747,"lat":18.441},{"s":"i","lon":-64.725,"lat":18.425},{"s":"i","lon":-64.725,"lat":18.408},{"s":"i","lon":-64.743,"lat":18.401},{"s":"i","lon":-64.752,"lat":18.370},{"s":"i","lon":-64.775,"lat":18.363},{"s":"i","lon":-64.793,"lat":18.356},{"s":"i","lon":-64.799,"lat":18.341},{"s":"i","lon":-64.765,"lat":18.337},{"s":"i","lon":-64.729,"lat":18.319},{"s":"i","lon":-64.706,"lat":18.317},{"s":"i","lon":-64.686,"lat":18.334},{"s":"i","lon":-64.663,"lat":18.341},{"s":"i","lon":-64.661,"lat":18.359},{"s":"i","lon":-64.645,"lat":18.381},{"s":"i","lon":-64.645,"lat":18.392},{"s":"i","lon":-64.607,"lat":18.412},{"s":"i","lon":-64.593,"lat":18.412},{"s":"i","lon":-64.570,"lat":18.430},{"s":"i","lon":-64.525,"lat":18.430},{"s":"i","lon":-64.516,"lat":18.445},{"s":"i","lon":-64.527,"lat":18.459},{"s":"i","lon":-64.493,"lat":18.474},{"s":"i","lon":-64.509,"lat":18.490},{"s":"i","lon":-64.527,"lat":18.507},{"s":"i","lon":-64.527,"lat":18.514},{"s":"i","lon":-64.543,"lat":18.523},{"s":"i","lon":-64.559,"lat":18.503},{"s":"i","lon":-64.577,"lat":18.507},{"s":"i","lon":-64.604,"lat":18.496},{"s":"i","lon":-64.593,"lat":18.481},{"s":"i","lon":-64.607,"lat":18.470},
{"s":"j","lon":-64.584,"lat":18.390},{"s":"j","lon":-64.607,"lat":18.379},{"s":"j","lon":-64.623,"lat":18.359},{"s":"j","lon":-64.600,"lat":18.345},{"s":"j","lon":-64.572,"lat":18.337},{"s":"j","lon":-64.561,"lat":18.361},{"s":"j","lon":-64.539,"lat":18.359},{"s":"j","lon":-64.525,"lat":18.374},{"s":"j","lon":-64.509,"lat":18.379},{"s":"j","lon":-64.502,"lat":18.381},{"s":"j","lon":-64.516,"lat":18.397},{"s":"j","lon":-64.525,"lat":18.405},{"s":"j","lon":-64.543,"lat":18.397},
{"s":"k","lon":-64.630,"lat":18.337},{"s":"k","lon":-64.623,"lat":18.341},{"s":"k","lon":-64.605,"lat":18.321},{"s":"k","lon":-64.634,"lat":18.325},{"s":"k","lon":-64.630,"lat":18.337},
{"s":"l","lon":-64.414,"lat":18.530},{"s":"l","lon":-64.441,"lat":18.507},{"s":"l","lon":-64.457,"lat":18.478},{"s":"l","lon":-64.468,"lat":18.441},{"s":"l","lon":-64.452,"lat":18.423},{"s":"l","lon":-64.464,"lat":18.401},{"s":"l","lon":-64.475,"lat":18.376},
{"s":"m","lon":-64.459,"lat":18.523},{"s":"m","lon":-64.437,"lat":18.503},
{"s":"n","lon":-64.477,"lat":18.481},{"s":"n","lon":-64.448,"lat":18.501},
{"s":"o","lon":-64.452,"lat":18.423},{"s":"o","lon":-64.434,"lat":18.436},{"s":"o","lon":-64.430,"lat":18.463},{"s":"o","lon":-64.402,"lat":18.459},{"s":"o","lon":-64.366,"lat":18.496},{"s":"o","lon":-64.332,"lat":18.505},{"s":"o","lon":-64.343,"lat":18.525},{"s":"o","lon":-64.377,"lat":18.541},
{"s":"p","lon":-64.400,"lat":18.745},{"s":"p","lon":-64.418,"lat":18.743},{"s":"p","lon":-64.411,"lat":18.731},{"s":"p","lon":-64.361,"lat":18.727},{"s":"p","lon":-64.350,"lat":18.718},{"s":"p","lon":-64.339,"lat":18.714},{"s":"p","lon":-64.311,"lat":18.714},{"s":"p","lon":-64.291,"lat":18.696},{"s":"p","lon":-64.282,"lat":18.707},{"s":"p","lon":-64.287,"lat":18.725},{"s":"p","lon":-64.325,"lat":18.771},{"s":"p","lon":-64.357,"lat":18.745},
{"s":"q","lon":-64.691,"lat":17.769},{"s":"q","lon":-64.709,"lat":17.757},{"s":"q","lon":-64.736,"lat":17.764},{"s":"q","lon":-64.758,"lat":17.788},{"s":"q","lon":-64.793,"lat":17.786},{"s":"q","lon":-64.815,"lat":17.780},{"s":"q","lon":-64.842,"lat":17.760},{"s":"q","lon":-64.890,"lat":17.766},{"s":"q","lon":-64.895,"lat":17.726},{"s":"q","lon":-64.883,"lat":17.726},{"s":"q","lon":-64.892,"lat":17.715},{"s":"q","lon":-64.890,"lat":17.695},{"s":"q","lon":-64.797,"lat":17.700},{"s":"q","lon":-64.765,"lat":17.702},{"s":"q","lon":-64.743,"lat":17.715},{"s":"q","lon":-64.675,"lat":17.720},{"s":"q","lon":-64.629,"lat":17.746},{"s":"q","lon":-64.586,"lat":17.757},{"s":"q","lon":-64.593,"lat":17.769},{"s":"q","lon":-64.641,"lat":17.769}
],
"guides":[
{"s":"ax","lon":-66.5,"lat":17.4711},{"s":"ax","lon":-64.5,"lat":17.4711},
{"s":"bar","lon":-66.849,"lat":17.531},{"s":"bar","lon":-66.350,"lat":17.531},
{"s":"barL","lon":-66.849,"lat":17.544},{"s":"barL","lon":-66.849,"lat":17.518},
{"s":"barR","lon":-66.350,"lat":17.544},{"s":"barR","lon":-66.350,"lat":17.518}
],
"yaxis":[{"s":"ay","lon":-66.9014,"lat":17.5},{"s":"ay","lon":-66.9014,"lat":19}],
"labels":[
{"t":"−3000","lon":-65.580,"lat":18.893},{"t":"−2500","lon":-65.439,"lat":18.856},{"t":"−2000","lon":-66.772,"lat":18.729},{"t":"−500","lon":-65.813,"lat":18.521},{"t":"−1500","lon":-64.686,"lat":18.885},{"t":"−1000","lon":-64.475,"lat":18.825},{"t":"−2500","lon":-64.241,"lat":18.947},{"t":"0","lon":-66.840,"lat":18.494},{"t":"0","lon":-64.379,"lat":18.745},{"t":"0","lon":-65.273,"lat":18.328},{"t":"0","lon":-64.978,"lat":18.379},{"t":"0","lon":-64.629,"lat":18.472},{"t":"0","lon":-64.563,"lat":18.388},{"t":"0","lon":-64.396,"lat":18.534},{"t":"−2000","lon":-64.956,"lat":18.130},{"t":"−2500","lon":-65.178,"lat":18.046},{"t":"−3000","lon":-64.822,"lat":18.062},{"t":"−2000","lon":-64.414,"lat":18.235},{"t":"−2500","lon":-64.214,"lat":18.179},{"t":"−2000","lon":-66.353,"lat":17.700},{"t":"−3000","lon":-66.282,"lat":17.613},{"t":"−2500","lon":-66.905,"lat":17.704},{"t":"−500","lon":-65.899,"lat":17.802},{"t":"−1500","lon":-64.457,"lat":17.904},{"t":"−1000","lon":-64.593,"lat":17.842},{"t":"−500","lon":-64.475,"lat":17.842},{"t":"0","lon":-64.675,"lat":17.767},{"t":"−2000","lon":-64.611,"lat":17.540},{"t":"−2500","lon":-64.362,"lat":17.593},{"t":"−3000","lon":-64.203,"lat":17.578},{"t":"−2000","lon":-64.210,"lat":17.930},{"t":"−2500","lon":-65.253,"lat":17.522}
],
"points":[
{"g":"black","lon":-66.615,"lat":18.456},{"g":"black","lon":-66.702,"lat":18.403},{"g":"black","lon":-66.366,"lat":18.421},{"g":"black","lon":-66.744,"lat":18.263},{"g":"black","lon":-66.430,"lat":18.297},{"g":"black","lon":-66.072,"lat":18.423},{"g":"black","lon":-66.105,"lat":18.370},{"g":"black","lon":-65.971,"lat":18.372},{"g":"black","lon":-66.183,"lat":18.363},{"g":"black","lon":-66.101,"lat":18.403},{"g":"black","lon":-66.063,"lat":18.401},
{"g":"red","lon":-66.103,"lat":18.412},{"g":"red","lon":-66.069,"lat":18.401},{"g":"red","lon":-66.176,"lat":18.363},{"g":"red","lon":-65.790,"lat":18.412},{"g":"red","lon":-65.829,"lat":18.325},{"g":"red","lon":-65.636,"lat":18.334},{"g":"red","lon":-65.924,"lat":18.226},{"g":"red","lon":-65.659,"lat":18.257},{"g":"red","lon":-65.650,"lat":18.259},{"g":"red","lon":-65.738,"lat":18.215},{"g":"red","lon":-65.709,"lat":18.219},{"g":"red","lon":-65.718,"lat":18.192},{"g":"red","lon":-65.793,"lat":18.115},
{"g":"purple","lon":-66.734,"lat":18.002},{"g":"purple","lon":-66.704,"lat":17.979},{"g":"purple","lon":-66.632,"lat":17.986},
{"g":"blue","lon":-64.352,"lat":18.734},{"g":"blue","lon":-64.999,"lat":18.365},{"g":"blue","lon":-64.945,"lat":18.374},{"g":"blue","lon":-64.945,"lat":18.359},{"g":"blue","lon":-64.740,"lat":18.447},{"g":"blue","lon":-64.751,"lat":18.443},{"g":"blue","lon":-64.756,"lat":18.330},{"g":"blue","lon":-64.708,"lat":18.383},{"g":"blue","lon":-64.647,"lat":18.414},{"g":"blue","lon":-64.638,"lat":18.421},{"g":"blue","lon":-64.611,"lat":18.430},{"g":"blue","lon":-64.570,"lat":18.490},{"g":"blue","lon":-64.561,"lat":18.479},{"g":"blue","lon":-64.532,"lat":18.459},{"g":"blue","lon":-64.516,"lat":18.463},{"g":"blue","lon":-64.500,"lat":18.470},{"g":"blue","lon":-64.525,"lat":18.445},{"g":"blue","lon":-64.605,"lat":18.321},{"g":"blue","lon":-64.566,"lat":18.361},{"g":"blue","lon":-64.523,"lat":18.377},{"g":"blue","lon":-64.502,"lat":18.388},{"g":"blue","lon":-64.446,"lat":18.496},{"g":"blue","lon":-64.389,"lat":18.485},{"g":"blue","lon":-64.380,"lat":18.514},{"g":"blue","lon":-64.355,"lat":18.505},{"g":"blue","lon":-64.344,"lat":18.530},
{"g":"blue","lon":-65.443,"lat":18.163},{"g":"blue","lon":-65.427,"lat":18.163},{"g":"blue","lon":-65.446,"lat":18.152},{"g":"blue","lon":-65.432,"lat":18.152},{"g":"blue","lon":-65.423,"lat":18.157},{"g":"blue","lon":-65.423,"lat":18.143},{"g":"blue","lon":-65.437,"lat":18.137},{"g":"blue","lon":-65.396,"lat":18.157},{"g":"blue","lon":-65.369,"lat":18.159},{"g":"blue","lon":-65.366,"lat":18.150},{"g":"blue","lon":-65.332,"lat":18.152},{"g":"blue","lon":-65.312,"lat":18.148},{"g":"blue","lon":-65.346,"lat":18.135},{"g":"blue","lon":-65.421,"lat":18.126},{"g":"blue","lon":-65.398,"lat":18.117},{"g":"blue","lon":-65.441,"lat":18.115},{"g":"blue","lon":-65.450,"lat":18.104},{"g":"blue","lon":-65.457,"lat":18.128},{"g":"blue","lon":-65.473,"lat":18.115},{"g":"blue","lon":-65.514,"lat":18.141},{"g":"blue","lon":-65.484,"lat":18.146},
{"g":"red","lon":-65.582,"lat":18.123},{"g":"red","lon":-65.582,"lat":18.115},{"g":"red","lon":-65.563,"lat":18.123},{"g":"red","lon":-65.566,"lat":18.115},{"g":"red","lon":-65.545,"lat":18.126},{"g":"red","lon":-65.536,"lat":18.117},{"g":"red","lon":-65.548,"lat":18.108},{"g":"red","lon":-65.557,"lat":18.101},{"g":"red","lon":-65.536,"lat":18.097},{"g":"red","lon":-65.525,"lat":18.099},{"g":"red","lon":-65.536,"lat":18.088},{"g":"red","lon":-65.527,"lat":18.090},{"g":"red","lon":-65.523,"lat":18.132},{"g":"red","lon":-65.516,"lat":18.139},{"g":"red","lon":-65.511,"lat":18.126},{"g":"red","lon":-65.511,"lat":18.115},{"g":"red","lon":-65.504,"lat":18.101},{"g":"red","lon":-65.500,"lat":18.139},{"g":"red","lon":-65.486,"lat":18.146},{"g":"red","lon":-65.466,"lat":18.139},{"g":"red","lon":-65.491,"lat":18.130},{"g":"red","lon":-65.480,"lat":18.119},{"g":"red","lon":-65.491,"lat":18.115},{"g":"red","lon":-65.477,"lat":18.108},{"g":"red","lon":-65.473,"lat":18.095},{"g":"red","lon":-65.486,"lat":18.101},{"g":"red","lon":-65.468,"lat":18.137}
]},
"layer":[
{"data":{"name":"contours"},"mark":{"type":"line","stroke":"#222","strokeWidth":1,"strokeJoin":"round","clip":true},"encoding":{"x":{"field":"lon","type":"quantitative","scale":{"domain":[-66.9014,-64.1961],"nice":false,"zero":false},"axis":{"title":"Longitude","values":[-66.5,-66,-65.5,-65,-64.5],"format":".1f","labelPadding":14,"titlePadding":29}},"y":{"field":"lat","type":"quantitative","scale":{"domain":[17.4711,19],"nice":false,"zero":false},"axis":{"title":"Latitude","values":[17.5,18,18.5,19],"format":".1f","labelAngle":-90,"labelAlign":"center","labelBaseline":"bottom","labelPadding":14,"titlePadding":26,"titleY":311}},"detail":{"field":"s"},"order":{"value":null}}},
{"data":{"name":"coast"},"mark":{"type":"line","stroke":"#222","strokeWidth":3.9,"strokeJoin":"round","strokeCap":"round","clip":true},"encoding":{"x":{"field":"lon","type":"quantitative"},"y":{"field":"lat","type":"quantitative"},"detail":{"field":"s"},"order":{"value":null}}},
{"data":{"name":"labels"},"mark":{"type":"text","font":"Liberation Sans","fontSize":12.5,"stroke":"white","strokeWidth":4,"clip":true},"encoding":{"x":{"field":"lon","type":"quantitative"},"y":{"field":"lat","type":"quantitative"},"text":{"field":"t"}}},
{"data":{"name":"labels"},"mark":{"type":"text","font":"Liberation Sans","fontSize":12.5,"fill":"#222","opacity":0.99,"clip":true},"encoding":{"x":{"field":"lon","type":"quantitative"},"y":{"field":"lat","type":"quantitative"},"text":{"field":"t"}}},
{"data":{"name":"points"},"mark":{"type":"point","filled":true,"size":78,"stroke":"#111","strokeWidth":1,"opacity":1},"encoding":{"x":{"field":"lon","type":"quantitative"},"y":{"field":"lat","type":"quantitative"},"fill":{"field":"g","type":"nominal","legend":null,"scale":{"domain":["black","red","purple","blue"],"range":["#1c1c1c","#ed1c24","#7a4ea3","#3853a4"]}},"order":{"value":null}}},
{"data":{"name":"guides"},"mark":{"type":"line","stroke":"#333","strokeWidth":1.1,"clip":false},"encoding":{"x":{"field":"lon","type":"quantitative"},"y":{"field":"lat","type":"quantitative"},"detail":{"field":"s"},"order":{"value":null}}},
{"data":{"name":"yaxis"},"mark":{"type":"line","stroke":"#666","strokeWidth":1.7,"clip":false},"encoding":{"x":{"field":"lon","type":"quantitative"},"y":{"field":"lat","type":"quantitative"},"detail":{"field":"s"},"order":{"value":null}}},
{"data":{"values":[{"t":"53 km","lon":-66.600,"lat":17.560}]},"mark":{"type":"text","font":"Liberation Sans","fontSize":18.5,"fill":"#222","opacity":0.99},"encoding":{"x":{"field":"lon","type":"quantitative"},"y":{"field":"lat","type":"quantitative"},"text":{"field":"t"}}}
]}
